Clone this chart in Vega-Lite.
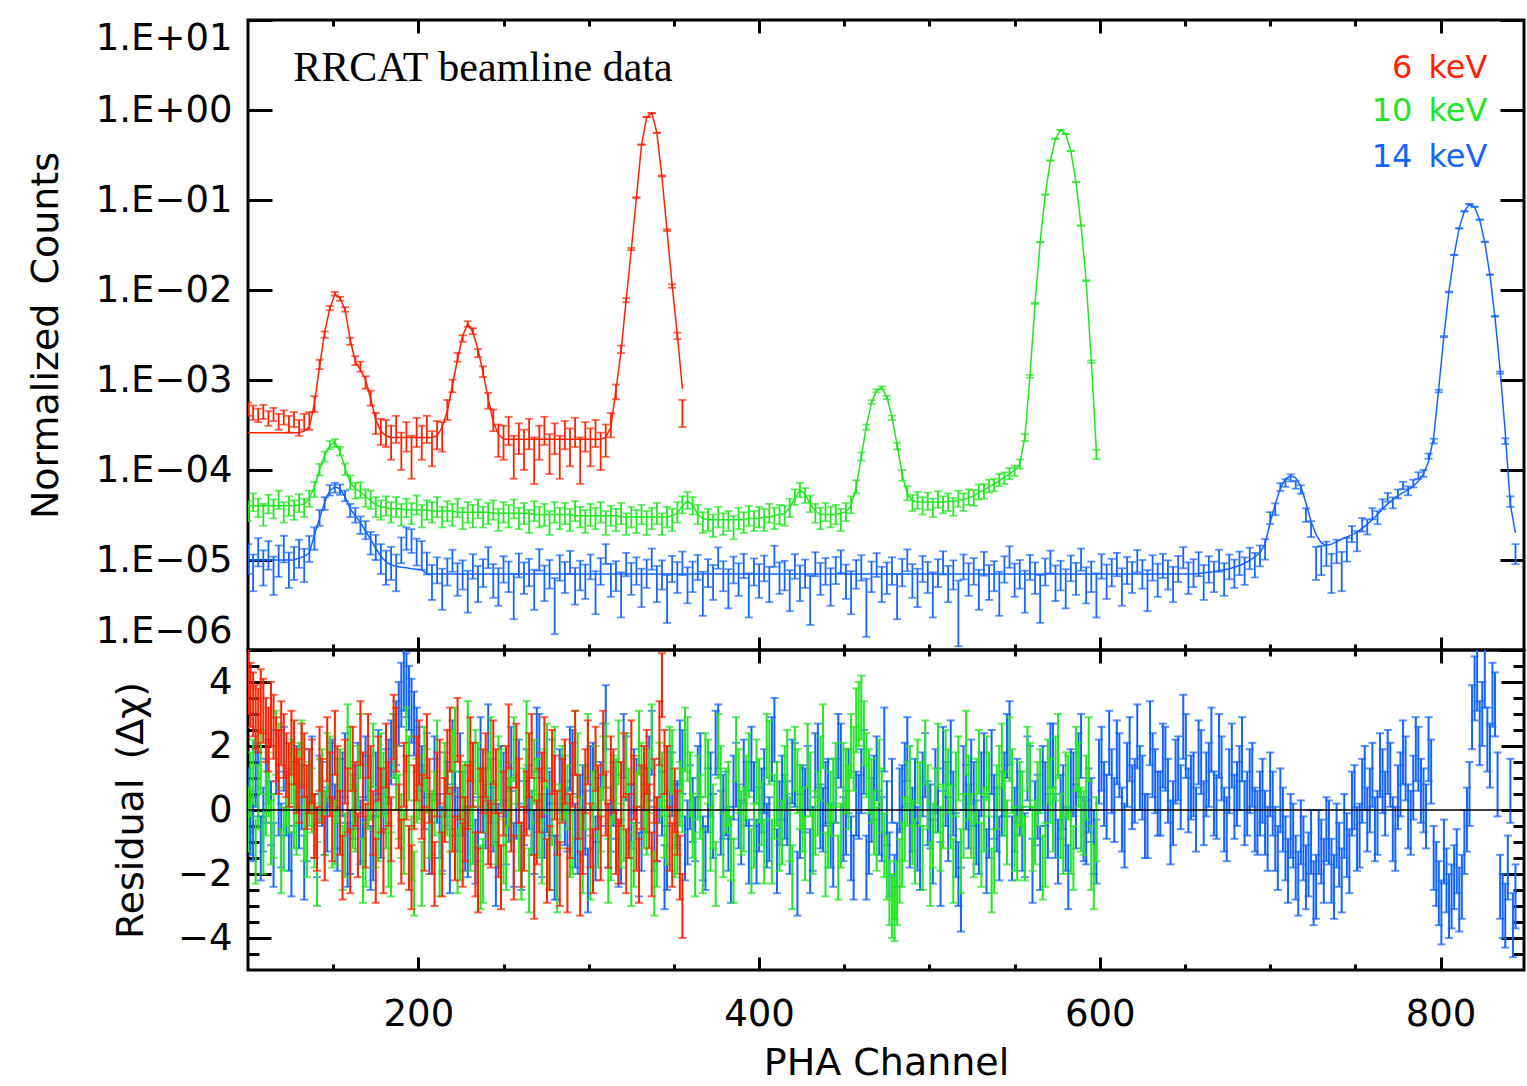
{
"$schema":"https://vega.github.io/schema/vega-lite/v6.json",
"background":"white",
"padding":{"left":25,"top":17,"right":0,"bottom":0},
"spacing":0,
"bounds":"flush",
"datasets":{"d":[
{"s":6,"x":100,"y":4.8e-4,"e":8e-5,"m":2.6e-4,"r":4.0,"u":1},
{"s":6,"x":103,"y":4.4e-4,"e":8e-5,"m":2.6e-4,"r":3.3,"u":1},
{"s":6,"x":106,"y":4.1e-4,"e":7e-5,"m":2.6e-4,"r":2.8,"u":1},
{"s":6,"x":109,"y":4.5e-4,"e":8e-5,"m":2.6e-4,"r":3.1,"u":1},
{"s":6,"x":112,"y":3.8e-4,"e":7e-5,"m":2.6e-4,"r":2.2,"u":1},
{"s":6,"x":115,"y":4.2e-4,"e":7e-5,"m":2.6e-4,"r":2.6,"u":1},
{"s":6,"x":118,"y":3.5e-4,"e":7e-5,"m":2.6e-4,"r":1.5,"u":1},
{"s":6,"x":121,"y":3.9e-4,"e":7e-5,"m":2.6e-4,"r":2.0,"u":1},
{"s":6,"x":124,"y":3.3e-4,"e":7e-5,"m":2.6e-4,"r":1.1,"u":1},
{"s":6,"x":127,"y":3.7e-4,"e":7e-5,"m":2.6e-4,"r":1.8,"u":1},
{"s":6,"x":130,"y":3.0e-4,"e":6e-5,"m":2.6e-4,"r":0.6,"u":1},
{"s":6,"x":133,"y":3.5e-4,"e":7e-5,"m":2.7e-4,"r":1.4,"u":1},
{"s":6,"x":136,"y":3.6e-4,"e":8e-5,"m":3.0e-4,"r":0.9,"u":1},
{"s":6,"x":139,"y":5.5e-4,"e":1.1e-4,"m":5.5e-4,"r":-0.5,"u":1},
{"s":6,"x":142,"y":1.5e-3,"e":1.8e-4,"m":1.4e-3,"r":1.6,"u":1},
{"s":6,"x":145,"y":3.2e-3,"e":2.6e-4,"m":3.4e-3,"r":-1.2,"u":1},
{"s":6,"x":148,"y":6.3e-3,"e":3.5e-4,"m":6.2e-3,"r":0.8,"u":1},
{"s":6,"x":151,"y":9.1e-3,"e":4.2e-4,"m":9.0e-3,"r":2.1,"u":1},
{"s":6,"x":154,"y":8.0e-3,"e":4e-4,"m":8.1e-3,"r":-0.4,"u":1},
{"s":6,"x":157,"y":6.1e-3,"e":3.5e-4,"m":6.0e-3,"r":1.2,"u":1},
{"s":6,"x":160,"y":2.7e-3,"e":2.4e-4,"m":2.8e-3,"r":-1.6,"u":1},
{"s":6,"x":163,"y":1.65e-3,"e":1.9e-4,"m":1.6e-3,"r":0.5,"u":1},
{"s":6,"x":166,"y":1.42e-3,"e":1.8e-4,"m":1.3e-3,"r":2.4,"u":1},
{"s":6,"x":169,"y":9.5e-4,"e":1.5e-4,"m":1.0e-3,"r":-0.8,"u":1},
{"s":6,"x":172,"y":6.4e-4,"e":1.2e-4,"m":6.2e-4,"r":1.0,"u":1},
{"s":6,"x":175,"y":3.4e-4,"e":9e-5,"m":3.6e-4,"r":-1.9,"u":1},
{"s":6,"x":178,"y":2.8e-4,"e":9e-5,"m":2.7e-4,"r":0.3,"u":1},
{"s":6,"x":181,"y":2.7e-4,"e":9e-5,"m":2.4e-4,"r":1.7,"u":1},
{"s":6,"x":184,"y":2.2e-4,"e":9e-5,"m":2.3e-4,"r":-0.6,"u":1},
{"s":6,"x":187,"y":3.0e-4,"e":1.0e-4,"m":2.3e-4,"r":2.2,"u":1},
{"s":6,"x":190,"y":1.8e-4,"e":8e-5,"m":2.3e-4,"r":-1.3,"u":1},
{"s":6,"x":193,"y":2.5e-4,"e":9e-5,"m":2.3e-4,"r":0.7,"u":1},
{"s":6,"x":196,"y":1.6e-4,"e":8e-5,"m":2.3e-4,"r":-2.1,"u":1},
{"s":6,"x":199,"y":2.8e-4,"e":1.0e-4,"m":2.3e-4,"r":1.3,"u":1},
{"s":6,"x":202,"y":2.2e-4,"e":9e-5,"m":2.3e-4,"r":0.1,"u":1},
{"s":6,"x":205,"y":3.0e-4,"e":1.0e-4,"m":2.3e-4,"r":2.0,"u":1},
{"s":6,"x":208,"y":1.9e-4,"e":8e-5,"m":2.3e-4,"r":-1.0,"u":1},
{"s":6,"x":211,"y":2.6e-4,"e":9e-5,"m":2.4e-4,"r":0.8,"u":1},
{"s":6,"x":214,"y":2.5e-4,"e":9e-5,"m":3.0e-4,"r":-1.7,"u":1},
{"s":6,"x":217,"y":4.8e-4,"e":1.2e-4,"m":4.5e-4,"r":1.5,"u":1},
{"s":6,"x":220,"y":8.7e-4,"e":1.4e-4,"m":8.8e-4,"r":-0.3,"u":1},
{"s":6,"x":223,"y":1.8e-3,"e":2e-4,"m":1.7e-3,"r":2.5,"u":1},
{"s":6,"x":226,"y":2.9e-3,"e":2.4e-4,"m":3.1e-3,"r":-1.4,"u":1},
{"s":6,"x":229,"y":4.2e-3,"e":2.9e-4,"m":4.2e-3,"r":0.4,"u":1},
{"s":6,"x":232,"y":3.5e-3,"e":2.7e-4,"m":3.4e-3,"r":1.1,"u":1},
{"s":6,"x":235,"y":2.0e-3,"e":2.1e-4,"m":2.2e-3,"r":-2.2,"u":1},
{"s":6,"x":238,"y":1.25e-3,"e":1.7e-4,"m":1.2e-3,"r":0.9,"u":1},
{"s":6,"x":241,"y":6.0e-4,"e":1.2e-4,"m":6.2e-4,"r":-0.7,"u":1},
{"s":6,"x":244,"y":3.7e-4,"e":1.0e-4,"m":3.4e-4,"r":1.8,"u":1},
{"s":6,"x":247,"y":2.3e-4,"e":9e-5,"m":2.5e-4,"r":-1.1,"u":1},
{"s":6,"x":250,"y":2.2e-4,"e":9e-5,"m":2.2e-4,"r":0.2,"u":1},
{"s":6,"x":253,"y":2.9e-4,"e":1.0e-4,"m":2.2e-4,"r":2.3,"u":1},
{"s":6,"x":256,"y":1.6e-4,"e":8e-5,"m":2.2e-4,"r":-1.8,"u":1},
{"s":6,"x":259,"y":2.4e-4,"e":9e-5,"m":2.2e-4,"r":0.6,"u":1},
{"s":6,"x":262,"y":1.9e-4,"e":9e-5,"m":2.2e-4,"r":-0.9,"u":1},
{"s":6,"x":265,"y":2.7e-4,"e":1.0e-4,"m":2.2e-4,"r":1.4,"u":1},
{"s":6,"x":268,"y":1.5e-4,"e":8e-5,"m":2.2e-4,"r":-2.4,"u":1},
{"s":6,"x":271,"y":2.2e-4,"e":9e-5,"m":2.2e-4,"r":0.3,"u":1},
{"s":6,"x":274,"y":2.9e-4,"e":1.0e-4,"m":2.2e-4,"r":1.9,"u":1},
{"s":6,"x":277,"y":1.7e-4,"e":8e-5,"m":2.2e-4,"r":-1.5,"u":1},
{"s":6,"x":280,"y":2.4e-4,"e":9e-5,"m":2.2e-4,"r":0.7,"u":1},
{"s":6,"x":283,"y":1.6e-4,"e":8e-5,"m":2.2e-4,"r":-2.0,"u":1},
{"s":6,"x":286,"y":2.6e-4,"e":9e-5,"m":2.2e-4,"r":1.2,"u":1},
{"s":6,"x":289,"y":2.0e-4,"e":9e-5,"m":2.2e-4,"r":-0.5,"u":1},
{"s":6,"x":292,"y":2.8e-4,"e":1.0e-4,"m":2.2e-4,"r":2.1,"u":1},
{"s":6,"x":295,"y":1.5e-4,"e":8e-5,"m":2.2e-4,"r":-2.3,"u":1},
{"s":6,"x":298,"y":2.5e-4,"e":9e-5,"m":2.2e-4,"r":0.9,"u":1},
{"s":6,"x":301,"y":2.0e-4,"e":9e-5,"m":2.2e-4,"r":-0.8,"u":1},
{"s":6,"x":304,"y":2.7e-4,"e":9e-5,"m":2.2e-4,"r":1.6,"u":1},
{"s":6,"x":307,"y":1.8e-4,"e":8e-5,"m":2.2e-4,"r":-1.2,"u":1},
{"s":6,"x":310,"y":2.3e-4,"e":9e-5,"m":2.3e-4,"r":0.2,"u":1},
{"s":6,"x":313,"y":3.3e-4,"e":1.0e-4,"m":3.0e-4,"r":1.3,"u":1},
{"s":6,"x":316,"y":7.5e-4,"e":1.4e-4,"m":7.8e-4,"r":-1.0,"u":1},
{"s":6,"x":319,"y":2.2e-3,"e":2.1e-4,"m":2.1e-3,"r":0.5,"u":1},
{"s":6,"x":322,"y":7.7e-3,"e":4e-4,"m":7.9e-3,"r":-1.6,"u":1},
{"s":6,"x":325,"y":2.85e-2,"e":8e-4,"m":2.8e-2,"r":1.8,"u":1},
{"s":6,"x":328,"y":0.106,"e":1.5e-3,"m":0.107,"r":-0.9,"u":1},
{"s":6,"x":331,"y":0.412,"e":3e-3,"m":0.41,"r":0.4,"u":1},
{"s":6,"x":334,"y":0.835,"e":4.3e-3,"m":0.83,"r":1.5,"u":1},
{"s":6,"x":337,"y":0.922,"e":4.5e-3,"m":0.93,"r":-1.7,"u":1},
{"s":6,"x":340,"y":0.557,"e":3.5e-3,"m":0.56,"r":-0.6,"u":1},
{"s":6,"x":343,"y":0.185,"e":2e-3,"m":0.178,"r":3.9,"u":1},
{"s":6,"x":346,"y":0.0462,"e":1e-3,"m":0.045,"r":1.0,"u":1},
{"s":6,"x":349,"y":0.0111,"e":5e-4,"m":0.0112,"r":-1.4,"u":1},
{"s":6,"x":352,"y":3.1e-3,"e":2.6e-4,"m":3.2e-3,"r":-0.4,"u":1},
{"s":6,"x":355,"y":4.5e-4,"e":1.5e-4,"m":8.0e-4,"r":-3.0,"u":1},
{"s":10,"x":100,"y":3.6e-5,"e":9e-6,"m":4.0e-5,"r":-0.3,"u":1},
{"s":10,"x":103,"y":4.5e-5,"e":1.0e-5,"m":4.0e-5,"r":1.2,"u":1},
{"s":10,"x":106,"y":3.9e-5,"e":9e-6,"m":4.0e-5,"r":0.4,"u":1},
{"s":10,"x":109,"y":3.3e-5,"e":9e-6,"m":4.0e-5,"r":-1.0,"u":1},
{"s":10,"x":112,"y":4.3e-5,"e":1.0e-5,"m":4.0e-5,"r":0.8,"u":1},
{"s":10,"x":115,"y":3.8e-5,"e":9e-6,"m":4.0e-5,"r":-0.5,"u":1},
{"s":10,"x":118,"y":4.8e-5,"e":1.1e-5,"m":4.0e-5,"r":1.7,"u":1},
{"s":10,"x":121,"y":3.5e-5,"e":9e-6,"m":4.0e-5,"r":-0.9,"u":1},
{"s":10,"x":124,"y":4.1e-5,"e":1.0e-5,"m":4.0e-5,"r":0.3,"u":1},
{"s":10,"x":127,"y":3.7e-5,"e":9e-6,"m":4.0e-5,"r":-0.2,"u":1},
{"s":10,"x":130,"y":4.4e-5,"e":1.0e-5,"m":4.1e-5,"r":1.1,"u":1},
{"s":10,"x":133,"y":3.9e-5,"e":9e-6,"m":4.2e-5,"r":-0.6,"u":1},
{"s":10,"x":136,"y":4.9e-5,"e":1.0e-5,"m":4.8e-5,"r":0.5,"u":1},
{"s":10,"x":139,"y":6.2e-5,"e":1.2e-5,"m":6.5e-5,"r":-0.8,"u":1},
{"s":10,"x":142,"y":1.02e-4,"e":1.5e-5,"m":1.0e-4,"r":0.6,"u":1},
{"s":10,"x":145,"y":1.42e-4,"e":1.8e-5,"m":1.45e-4,"r":-0.4,"u":1},
{"s":10,"x":148,"y":1.9e-4,"e":2e-5,"m":1.85e-4,"r":1.3,"u":1},
{"s":10,"x":151,"y":2.0e-4,"e":2e-5,"m":2.05e-4,"r":-0.7,"u":1},
{"s":10,"x":154,"y":1.63e-4,"e":1.8e-5,"m":1.6e-4,"r":0.9,"u":1},
{"s":10,"x":157,"y":1.03e-4,"e":1.5e-5,"m":1.05e-4,"r":-1.1,"u":1},
{"s":10,"x":160,"y":7.4e-5,"e":1.3e-5,"m":7.2e-5,"r":1.6,"u":1},
{"s":10,"x":163,"y":6.0e-5,"e":1.2e-5,"m":6.2e-5,"r":-0.3,"u":1},
{"s":10,"x":166,"y":6.1e-5,"e":1.2e-5,"m":5.7e-5,"r":2.0,"u":1},
{"s":10,"x":169,"y":5.0e-5,"e":1.1e-5,"m":5.1e-5,"r":-1.4,"u":1},
{"s":10,"x":172,"y":4.8e-5,"e":1.1e-5,"m":4.6e-5,"r":0.7,"u":1},
{"s":10,"x":175,"y":4.0e-5,"e":1.0e-5,"m":4.1e-5,"r":-0.8,"u":1},
{"s":10,"x":178,"y":3.7e-5,"e":9e-6,"m":3.9e-5,"r":1.4,"u":1},
{"s":10,"x":181,"y":4.1e-5,"e":1.0e-5,"m":3.8e-5,"r":-0.2,"u":1},
{"s":10,"x":184,"y":3.5e-5,"e":9e-6,"m":3.7e-5,"r":-1.7,"u":1},
{"s":10,"x":187,"y":4.0e-5,"e":1.0e-5,"m":3.7e-5,"r":1.0,"u":1},
{"s":10,"x":190,"y":3.3e-5,"e":9e-6,"m":3.7e-5,"r":-0.5,"u":1},
{"s":10,"x":193,"y":3.9e-5,"e":9e-6,"m":3.6e-5,"r":2.2,"u":1},
{"s":10,"x":196,"y":3.4e-5,"e":9e-6,"m":3.6e-5,"r":-1.2,"u":1},
{"s":10,"x":199,"y":4.2e-5,"e":1.0e-5,"m":3.6e-5,"r":0.6,"u":1},
{"s":10,"x":202,"y":3.2e-5,"e":9e-6,"m":3.6e-5,"r":-2.0,"u":1},
{"s":10,"x":205,"y":3.7e-5,"e":9e-6,"m":3.6e-5,"r":0.9,"u":1},
{"s":10,"x":208,"y":3.5e-5,"e":9e-6,"m":3.5e-5,"r":-0.4,"u":1},
{"s":10,"x":211,"y":4.0e-5,"e":1.0e-5,"m":3.5e-5,"r":1.8,"u":1},
{"s":10,"x":214,"y":3.1e-5,"e":8e-6,"m":3.5e-5,"r":-1.0,"u":1},
{"s":10,"x":217,"y":3.6e-5,"e":9e-6,"m":3.5e-5,"r":0.2,"u":1},
{"s":10,"x":220,"y":3.3e-5,"e":9e-6,"m":3.5e-5,"r":1.5,"u":1},
{"s":10,"x":223,"y":3.9e-5,"e":9e-6,"m":3.4e-5,"r":-1.6,"u":1},
{"s":10,"x":226,"y":3.0e-5,"e":8e-6,"m":3.4e-5,"r":0.4,"u":1},
{"s":10,"x":229,"y":3.5e-5,"e":9e-6,"m":3.4e-5,"r":2.4,"u":1},
{"s":10,"x":232,"y":3.2e-5,"e":9e-6,"m":3.4e-5,"r":-0.7,"u":1},
{"s":10,"x":235,"y":3.8e-5,"e":9e-6,"m":3.4e-5,"r":1.1,"u":1},
{"s":10,"x":238,"y":3.1e-5,"e":8e-6,"m":3.4e-5,"r":-1.9,"u":1},
{"s":10,"x":241,"y":3.4e-5,"e":9e-6,"m":3.4e-5,"r":0.8,"u":1},
{"s":10,"x":244,"y":3.7e-5,"e":9e-6,"m":3.3e-5,"r":-0.1,"u":1},
{"s":10,"x":247,"y":2.9e-5,"e":8e-6,"m":3.3e-5,"r":1.3,"u":1},
{"s":10,"x":250,"y":3.5e-5,"e":9e-6,"m":3.3e-5,"r":-1.3,"u":1},
{"s":10,"x":253,"y":3.2e-5,"e":9e-6,"m":3.3e-5,"r":0.5,"u":1},
{"s":10,"x":256,"y":3.8e-5,"e":9e-6,"m":3.3e-5,"r":1.9,"u":1},
{"s":10,"x":259,"y":3.0e-5,"e":8e-6,"m":3.3e-5,"r":-0.9,"u":1},
{"s":10,"x":262,"y":3.4e-5,"e":9e-6,"m":3.3e-5,"r":0.3,"u":1},
{"s":10,"x":265,"y":2.8e-5,"e":8e-6,"m":3.3e-5,"r":-2.2,"u":1},
{"s":10,"x":268,"y":3.6e-5,"e":9e-6,"m":3.2e-5,"r":1.2,"u":1},
{"s":10,"x":271,"y":3.1e-5,"e":8e-6,"m":3.2e-5,"r":-0.5,"u":1},
{"s":10,"x":274,"y":3.3e-5,"e":9e-6,"m":3.2e-5,"r":0.9,"u":1},
{"s":10,"x":277,"y":2.7e-5,"e":8e-6,"m":3.2e-5,"r":-1.5,"u":1},
{"s":10,"x":280,"y":3.5e-5,"e":9e-6,"m":3.2e-5,"r":1.6,"u":1},
{"s":10,"x":283,"y":3.0e-5,"e":8e-6,"m":3.2e-5,"r":-0.2,"u":1},
{"s":10,"x":286,"y":3.4e-5,"e":9e-6,"m":3.2e-5,"r":0.7,"u":1},
{"s":10,"x":289,"y":2.9e-5,"e":8e-6,"m":3.2e-5,"r":-1.1,"u":1},
{"s":10,"x":292,"y":3.6e-5,"e":9e-6,"m":3.1e-5,"r":2.1,"u":1},
{"s":10,"x":295,"y":3.1e-5,"e":8e-6,"m":3.1e-5,"r":-0.6,"u":1},
{"s":10,"x":298,"y":2.8e-5,"e":8e-6,"m":3.1e-5,"r":0.4,"u":1},
{"s":10,"x":301,"y":3.3e-5,"e":9e-6,"m":3.1e-5,"r":-1.8,"u":1},
{"s":10,"x":304,"y":3.0e-5,"e":8e-6,"m":3.1e-5,"r":1.0,"u":1},
{"s":10,"x":307,"y":3.5e-5,"e":9e-6,"m":3.1e-5,"r":-0.3,"u":1},
{"s":10,"x":310,"y":2.7e-5,"e":8e-6,"m":3.1e-5,"r":1.7,"u":1},
{"s":10,"x":313,"y":3.2e-5,"e":8e-6,"m":3.1e-5,"r":-1.2,"u":1},
{"s":10,"x":316,"y":2.9e-5,"e":8e-6,"m":3.1e-5,"r":0.6,"u":1},
{"s":10,"x":319,"y":3.4e-5,"e":9e-6,"m":3.0e-5,"r":-0.8,"u":1},
{"s":10,"x":322,"y":2.6e-5,"e":7e-6,"m":3.0e-5,"r":1.4,"u":1},
{"s":10,"x":325,"y":3.1e-5,"e":8e-6,"m":3.0e-5,"r":-2.0,"u":1},
{"s":10,"x":328,"y":2.8e-5,"e":8e-6,"m":3.0e-5,"r":0.2,"u":1},
{"s":10,"x":331,"y":3.3e-5,"e":8e-6,"m":3.0e-5,"r":1.1,"u":1},
{"s":10,"x":334,"y":2.7e-5,"e":8e-6,"m":3.0e-5,"r":-0.4,"u":1},
{"s":10,"x":337,"y":3.0e-5,"e":8e-6,"m":3.0e-5,"r":2.3,"u":1},
{"s":10,"x":340,"y":3.4e-5,"e":9e-6,"m":3.0e-5,"r":-1.4,"u":1},
{"s":10,"x":343,"y":2.6e-5,"e":7e-6,"m":3.0e-5,"r":0.8,"u":1},
{"s":10,"x":346,"y":3.1e-5,"e":8e-6,"m":3.0e-5,"r":-0.7,"u":1},
{"s":10,"x":349,"y":2.9e-5,"e":8e-6,"m":3.1e-5,"r":1.5,"u":1},
{"s":10,"x":352,"y":3.5e-5,"e":9e-6,"m":3.3e-5,"r":-1.0,"u":1},
{"s":10,"x":355,"y":4.2e-5,"e":9e-6,"m":4.0e-5,"r":0.3,"u":1},
{"s":10,"x":358,"y":4.7e-5,"e":1.0e-5,"m":4.5e-5,"r":1.9,"u":1},
{"s":10,"x":361,"y":4.1e-5,"e":9e-6,"m":4.1e-5,"r":-0.5,"u":1},
{"s":10,"x":364,"y":3.3e-5,"e":8e-6,"m":3.2e-5,"r":0.7,"u":1},
{"s":10,"x":367,"y":2.7e-5,"e":7e-6,"m":2.9e-5,"r":-1.6,"u":1},
{"s":10,"x":370,"y":2.9e-5,"e":8e-6,"m":2.8e-5,"r":1.2,"u":1},
{"s":10,"x":373,"y":2.5e-5,"e":7e-6,"m":2.8e-5,"r":-0.2,"u":1},
{"s":10,"x":376,"y":3.1e-5,"e":8e-6,"m":2.8e-5,"r":2.0,"u":1},
{"s":10,"x":379,"y":2.6e-5,"e":7e-6,"m":2.8e-5,"r":-1.1,"u":1},
{"s":10,"x":382,"y":2.8e-5,"e":7e-6,"m":2.8e-5,"r":0.5,"u":1},
{"s":10,"x":385,"y":2.4e-5,"e":7e-6,"m":2.8e-5,"r":-1.9,"u":1},
{"s":10,"x":388,"y":3.0e-5,"e":8e-6,"m":2.8e-5,"r":0.9,"u":1},
{"s":10,"x":391,"y":2.7e-5,"e":7e-6,"m":2.8e-5,"r":-0.3,"u":1},
{"s":10,"x":394,"y":3.2e-5,"e":8e-6,"m":2.9e-5,"r":1.4,"u":1},
{"s":10,"x":397,"y":2.8e-5,"e":7e-6,"m":2.9e-5,"r":-0.8,"u":1},
{"s":10,"x":400,"y":3.1e-5,"e":8e-6,"m":2.9e-5,"r":0.6,"u":1},
{"s":10,"x":403,"y":2.9e-5,"e":8e-6,"m":3.0e-5,"r":-1.3,"u":1},
{"s":10,"x":406,"y":3.4e-5,"e":8e-6,"m":3.0e-5,"r":1.8,"u":1},
{"s":10,"x":409,"y":3.0e-5,"e":8e-6,"m":3.1e-5,"r":0.1,"u":1},
{"s":10,"x":412,"y":3.3e-5,"e":8e-6,"m":3.2e-5,"r":-0.9,"u":1},
{"s":10,"x":415,"y":3.2e-5,"e":8e-6,"m":3.3e-5,"r":1.0,"u":1},
{"s":10,"x":418,"y":3.9e-5,"e":9e-6,"m":3.8e-5,"r":-0.6,"u":1},
{"s":10,"x":421,"y":5.1e-5,"e":1.0e-5,"m":4.9e-5,"r":1.6,"u":1},
{"s":10,"x":424,"y":6.1e-5,"e":1.1e-5,"m":6.0e-5,"r":0.4,"u":1},
{"s":10,"x":427,"y":5.3e-5,"e":1.0e-5,"m":5.4e-5,"r":-1.2,"u":1},
{"s":10,"x":430,"y":4.3e-5,"e":9e-6,"m":4.2e-5,"r":0.8,"u":1},
{"s":10,"x":433,"y":3.4e-5,"e":8e-6,"m":3.5e-5,"r":-0.4,"u":1},
{"s":10,"x":436,"y":3.0e-5,"e":8e-6,"m":3.2e-5,"r":1.3,"u":1},
{"s":10,"x":439,"y":3.5e-5,"e":8e-6,"m":3.2e-5,"r":-1.7,"u":1},
{"s":10,"x":442,"y":3.1e-5,"e":8e-6,"m":3.2e-5,"r":0.2,"u":1},
{"s":10,"x":445,"y":3.3e-5,"e":8e-6,"m":3.2e-5,"r":1.1,"u":1},
{"s":10,"x":448,"y":2.9e-5,"e":8e-6,"m":3.3e-5,"r":-0.8,"u":1},
{"s":10,"x":451,"y":3.5e-5,"e":8e-6,"m":3.4e-5,"r":0.9,"u":1},
{"s":10,"x":454,"y":4.2e-5,"e":9e-6,"m":4.0e-5,"r":2.0,"u":1},
{"s":10,"x":457,"y":6.6e-5,"e":1.1e-5,"m":6.4e-5,"r":2.8,"u":1},
{"s":10,"x":460,"y":1.42e-4,"e":1.5e-5,"m":1.4e-4,"r":3.2,"u":1},
{"s":10,"x":463,"y":3.0e-4,"e":2e-5,"m":3.1e-4,"r":1.4,"u":1},
{"s":10,"x":466,"y":5.7e-4,"e":2.7e-5,"m":5.6e-4,"r":0.6,"u":1},
{"s":10,"x":469,"y":7.6e-4,"e":3e-5,"m":7.7e-4,"r":-0.9,"u":1},
{"s":10,"x":472,"y":8.2e-4,"e":3.2e-5,"m":8.2e-4,"r":0.3,"u":1},
{"s":10,"x":475,"y":6.4e-4,"e":2.8e-5,"m":6.5e-4,"r":-1.8,"u":1},
{"s":10,"x":478,"y":3.8e-4,"e":2.2e-5,"m":3.9e-4,"r":-3.0,"u":1},
{"s":10,"x":481,"y":1.85e-4,"e":1.6e-5,"m":1.9e-4,"r":-2.6,"u":1},
{"s":10,"x":484,"y":8.8e-5,"e":1.2e-5,"m":9.0e-5,"r":-1.4,"u":1},
{"s":10,"x":487,"y":5.6e-5,"e":1.0e-5,"m":5.4e-5,"r":0.5,"u":1},
{"s":10,"x":490,"y":4.4e-5,"e":9e-6,"m":4.6e-5,"r":-0.7,"u":1},
{"s":10,"x":493,"y":4.7e-5,"e":1.0e-5,"m":4.4e-5,"r":1.2,"u":1},
{"s":10,"x":496,"y":4.1e-5,"e":9e-6,"m":4.4e-5,"r":-1.5,"u":1},
{"s":10,"x":499,"y":4.6e-5,"e":1.0e-5,"m":4.4e-5,"r":0.4,"u":1},
{"s":10,"x":502,"y":3.9e-5,"e":9e-6,"m":4.4e-5,"r":-0.8,"u":1},
{"s":10,"x":505,"y":4.8e-5,"e":1.0e-5,"m":4.4e-5,"r":1.7,"u":1},
{"s":10,"x":508,"y":4.2e-5,"e":9e-6,"m":4.4e-5,"r":-0.2,"u":1},
{"s":10,"x":511,"y":4.5e-5,"e":1.0e-5,"m":4.5e-5,"r":0.9,"u":1},
{"s":10,"x":514,"y":4.0e-5,"e":9e-6,"m":4.5e-5,"r":-1.9,"u":1},
{"s":10,"x":517,"y":4.9e-5,"e":1.0e-5,"m":4.6e-5,"r":1.3,"u":1},
{"s":10,"x":520,"y":4.5e-5,"e":1.0e-5,"m":4.7e-5,"r":-0.5,"u":1},
{"s":10,"x":523,"y":5.1e-5,"e":1.0e-5,"m":4.9e-5,"r":0.7,"u":1},
{"s":10,"x":526,"y":5.0e-5,"e":1.0e-5,"m":5.2e-5,"r":-1.1,"u":1},
{"s":10,"x":529,"y":5.8e-5,"e":1.1e-5,"m":5.6e-5,"r":1.5,"u":1},
{"s":10,"x":532,"y":5.9e-5,"e":1.1e-5,"m":6.0e-5,"r":-0.3,"u":1},
{"s":10,"x":535,"y":6.7e-5,"e":1.1e-5,"m":6.5e-5,"r":0.8,"u":1},
{"s":10,"x":538,"y":6.9e-5,"e":1.1e-5,"m":7.0e-5,"r":-1.6,"u":1},
{"s":10,"x":541,"y":7.8e-5,"e":1.2e-5,"m":7.6e-5,"r":1.0,"u":1},
{"s":10,"x":544,"y":8.2e-5,"e":1.2e-5,"m":8.3e-5,"r":0.2,"u":1},
{"s":10,"x":547,"y":9.2e-5,"e":1.3e-5,"m":9.0e-5,"r":1.9,"u":1},
{"s":10,"x":550,"y":9.9e-5,"e":1.3e-5,"m":1.0e-4,"r":-0.9,"u":1},
{"s":10,"x":553,"y":1.17e-4,"e":1.4e-5,"m":1.15e-4,"r":0.5,"u":1},
{"s":10,"x":556,"y":2.3e-4,"e":2e-5,"m":2.3e-4,"r":-1.2,"u":1},
{"s":10,"x":559,"y":1.1e-3,"e":4e-5,"m":1.1e-3,"r":1.1,"u":1},
{"s":10,"x":562,"y":7.1e-3,"e":1.0e-4,"m":7.2e-3,"r":-0.7,"u":1},
{"s":10,"x":565,"y":3.4e-2,"e":2.2e-4,"m":3.4e-2,"r":0.9,"u":1},
{"s":10,"x":568,"y":0.115,"e":4e-4,"m":0.115,"r":-1.4,"u":1},
{"s":10,"x":571,"y":0.274,"e":6e-4,"m":0.275,"r":0.6,"u":1},
{"s":10,"x":574,"y":0.48,"e":8e-4,"m":0.48,"r":1.3,"u":1},
{"s":10,"x":577,"y":0.60,"e":9e-4,"m":0.60,"r":-0.5,"u":1},
{"s":10,"x":580,"y":0.54,"e":9e-4,"m":0.54,"r":0.8,"u":1},
{"s":10,"x":583,"y":0.35,"e":7e-4,"m":0.35,"r":-1.0,"u":1},
{"s":10,"x":586,"y":0.158,"e":5e-4,"m":0.158,"r":1.6,"u":1},
{"s":10,"x":589,"y":5.2e-2,"e":3e-4,"m":5.2e-2,"r":-0.3,"u":1},
{"s":10,"x":592,"y":1.27e-2,"e":1.4e-4,"m":1.26e-2,"r":0.7,"u":1},
{"s":10,"x":595,"y":1.6e-3,"e":5e-5,"m":1.65e-3,"r":-1.5,"u":1},
{"s":10,"x":598,"y":1.5e-4,"e":1.8e-5,"m":1.6e-4,"r":-0.6,"u":1},
{"s":14,"x":100,"y":1.1e-5,"e":4e-6,"m":1.0e-5,"r":0.3,"u":1},
{"s":14,"x":103,"y":8.0e-6,"e":3.5e-6,"m":1.0e-5,"r":-0.6,"u":1},
{"s":14,"x":106,"y":1.3e-5,"e":4.5e-6,"m":1.0e-5,"r":0.8,"u":1},
{"s":14,"x":109,"y":9.0e-6,"e":3.8e-6,"m":1.0e-5,"r":-0.3,"u":1},
{"s":14,"x":112,"y":1.2e-5,"e":4.2e-6,"m":1.0e-5,"r":1.2,"u":1},
{"s":14,"x":115,"y":7.5e-6,"e":3.4e-6,"m":1.0e-5,"r":-1.4,"u":1},
{"s":14,"x":118,"y":1.05e-5,"e":4e-6,"m":1.0e-5,"r":0.2,"u":1},
{"s":14,"x":121,"y":1.4e-5,"e":4.6e-6,"m":1.0e-5,"r":1.6,"u":1},
{"s":14,"x":124,"y":8.5e-6,"e":3.6e-6,"m":1.0e-5,"r":-0.9,"u":1},
{"s":14,"x":127,"y":1.0e-5,"e":4e-6,"m":1.0e-5,"r":0.5,"u":1},
{"s":14,"x":130,"y":1.25e-5,"e":4.3e-6,"m":1.05e-5,"r":-0.2,"u":1},
{"s":14,"x":133,"y":9.5e-6,"e":3.8e-6,"m":1.1e-5,"r":-1.8,"u":1},
{"s":14,"x":136,"y":1.4e-5,"e":4.5e-6,"m":1.2e-5,"r":0.9,"u":1},
{"s":14,"x":139,"y":1.8e-5,"e":5e-6,"m":1.9e-5,"r":-0.5,"u":1},
{"s":14,"x":142,"y":3.0e-5,"e":6e-6,"m":2.9e-5,"r":0.7,"u":1},
{"s":14,"x":145,"y":4.3e-5,"e":7e-6,"m":4.4e-5,"r":-0.4,"u":1},
{"s":14,"x":148,"y":6.0e-5,"e":8e-6,"m":5.9e-5,"r":1.1,"u":1},
{"s":14,"x":151,"y":6.4e-5,"e":8e-6,"m":6.5e-5,"r":-0.2,"u":1},
{"s":14,"x":154,"y":6.1e-5,"e":8e-6,"m":6.2e-5,"r":0.6,"u":1},
{"s":14,"x":157,"y":5.2e-5,"e":7e-6,"m":5.0e-5,"r":1.4,"u":1},
{"s":14,"x":160,"y":3.6e-5,"e":6e-6,"m":3.7e-5,"r":-1.0,"u":1},
{"s":14,"x":163,"y":3.2e-5,"e":6e-6,"m":3.1e-5,"r":0.4,"u":1},
{"s":14,"x":166,"y":2.5e-5,"e":5.5e-6,"m":2.6e-5,"r":-0.7,"u":1},
{"s":14,"x":169,"y":2.2e-5,"e":5e-6,"m":2.1e-5,"r":1.3,"u":1},
{"s":14,"x":172,"y":1.6e-5,"e":4.5e-6,"m":1.7e-5,"r":-1.5,"u":1},
{"s":14,"x":175,"y":1.45e-5,"e":4.5e-6,"m":1.35e-5,"r":0.8,"u":1},
{"s":14,"x":178,"y":1.1e-5,"e":4e-6,"m":1.1e-5,"r":-0.5,"u":1},
{"s":14,"x":181,"y":9.0e-6,"e":3.7e-6,"m":9.5e-6,"r":0.9,"u":1},
{"s":14,"x":184,"y":1.0e-5,"e":4e-6,"m":8.8e-6,"r":1.8,"u":1},
{"s":14,"x":187,"y":8.0e-6,"e":3.5e-6,"m":8.5e-6,"r":2.4,"u":1},
{"s":14,"x":190,"y":1.35e-5,"e":4.3e-6,"m":8.3e-6,"r":3.6,"u":1},
{"s":14,"x":193,"y":1.8e-5,"e":5e-6,"m":8.2e-6,"r":3.9,"u":1},
{"s":14,"x":196,"y":1.7e-5,"e":5e-6,"m":8.0e-6,"r":3.1,"u":1},
{"s":14,"x":199,"y":1.3e-5,"e":4.3e-6,"m":7.9e-6,"r":2.2,"u":1},
{"s":14,"x":202,"y":1.2e-5,"e":4.2e-6,"m":7.8e-6,"r":1.0,"u":1},
{"s":14,"x":205,"y":9.5e-6,"e":2.6e-6,"m":7.0e-6,"r":1.4,"u":1},
{"s":14,"x":208,"y":6.2e-6,"e":2.6e-6,"m":7.0e-6,"r":-0.5,"u":1},
{"s":14,"x":211,"y":8.1e-6,"e":2.6e-6,"m":7.0e-6,"r":0.6,"u":1},
{"s":14,"x":214,"y":5.4e-6,"e":2.6e-6,"m":7.0e-6,"r":-0.9,"u":1},
{"s":14,"x":217,"y":7.8e-6,"e":2.6e-6,"m":7.0e-6,"r":0.5,"u":1},
{"s":14,"x":220,"y":1.02e-5,"e":2.8e-6,"m":7.0e-6,"r":1.8,"u":1},
{"s":14,"x":223,"y":6.6e-6,"e":2.6e-6,"m":7.0e-6,"r":-0.3,"u":1},
{"s":14,"x":226,"y":7.3e-6,"e":2.6e-6,"m":7.0e-6,"r":0.2,"u":1},
{"s":14,"x":229,"y":5.1e-6,"e":2.5e-6,"m":7.0e-6,"r":-1.1,"u":1},
{"s":14,"x":232,"y":8.9e-6,"e":2.7e-6,"m":7.0e-6,"r":1.1,"u":1},
{"s":14,"x":235,"y":6.0e-6,"e":2.6e-6,"m":7.0e-6,"r":-0.6,"u":1},
{"s":14,"x":238,"y":7.6e-6,"e":2.6e-6,"m":7.0e-6,"r":0.3,"u":1},
{"s":14,"x":241,"y":1.1e-5,"e":2.9e-6,"m":7.0e-6,"r":2.3,"u":1},
{"s":14,"x":244,"y":6.4e-6,"e":2.6e-6,"m":7.0e-6,"r":-0.3,"u":1},
{"s":14,"x":247,"y":5.6e-6,"e":2.5e-6,"m":7.0e-6,"r":-0.8,"u":1},
{"s":14,"x":250,"y":8.3e-6,"e":2.7e-6,"m":7.0e-6,"r":0.8,"u":1},
{"s":14,"x":253,"y":7.0e-6,"e":2.6e-6,"m":7.0e-6,"r":0.0,"u":1},
{"s":14,"x":256,"y":4.6e-6,"e":2.4e-6,"m":7.0e-6,"r":-1.4,"u":1},
{"s":14,"x":259,"y":9.1e-6,"e":2.7e-6,"m":7.0e-6,"r":1.2,"u":1},
{"s":14,"x":262,"y":6.8e-6,"e":2.6e-6,"m":7.0e-6,"r":-0.1,"u":1},
{"s":14,"x":265,"y":7.7e-6,"e":2.6e-6,"m":7.0e-6,"r":0.4,"u":1},
{"s":14,"x":268,"y":5.3e-6,"e":2.5e-6,"m":7.0e-6,"r":-1.0,"u":1},
{"s":14,"x":271,"y":1.04e-5,"e":2.8e-6,"m":7.0e-6,"r":2.0,"u":1},
{"s":14,"x":274,"y":6.1e-6,"e":2.6e-6,"m":7.0e-6,"r":-0.5,"u":1},
{"s":14,"x":277,"y":7.4e-6,"e":2.6e-6,"m":7.0e-6,"r":0.2,"u":1},
{"s":14,"x":280,"y":3.9e-6,"e":2.4e-6,"m":7.0e-6,"r":-1.8,"u":1},
{"s":14,"x":283,"y":8.6e-6,"e":2.7e-6,"m":7.0e-6,"r":0.9,"u":1},
{"s":14,"x":286,"y":6.9e-6,"e":2.6e-6,"m":7.0e-6,"r":-0.1,"u":1},
{"s":14,"x":289,"y":9.8e-6,"e":2.8e-6,"m":7.0e-6,"r":1.6,"u":1},
{"s":14,"x":292,"y":5.7e-6,"e":2.5e-6,"m":7.0e-6,"r":-0.8,"u":1},
{"s":14,"x":295,"y":7.2e-6,"e":2.6e-6,"m":7.0e-6,"r":0.1,"u":1},
{"s":14,"x":298,"y":6.3e-6,"e":2.6e-6,"m":7.0e-6,"r":-0.4,"u":1},
{"s":14,"x":301,"y":8.8e-6,"e":2.7e-6,"m":7.0e-6,"r":1.0,"u":1},
{"s":14,"x":304,"y":5.0e-6,"e":2.5e-6,"m":7.0e-6,"r":-1.2,"u":1},
{"s":14,"x":307,"y":7.9e-6,"e":2.6e-6,"m":7.0e-6,"r":0.5,"u":1},
{"s":14,"x":310,"y":1.2e-5,"e":3e-6,"m":7.0e-6,"r":2.9,"u":1},
{"s":14,"x":313,"y":6.5e-6,"e":2.6e-6,"m":7.0e-6,"r":-0.3,"u":1},
{"s":14,"x":316,"y":7.1e-6,"e":2.6e-6,"m":7.0e-6,"r":0.1,"u":1},
{"s":14,"x":319,"y":4.8e-6,"e":2.5e-6,"m":7.0e-6,"r":-1.3,"u":1},
{"s":14,"x":322,"y":9.3e-6,"e":2.7e-6,"m":7.0e-6,"r":1.3,"u":1},
{"s":14,"x":325,"y":6.7e-6,"e":2.6e-6,"m":7.0e-6,"r":-0.2,"u":1},
{"s":14,"x":328,"y":8.0e-6,"e":2.7e-6,"m":7.0e-6,"r":0.6,"u":1},
{"s":14,"x":331,"y":5.5e-6,"e":2.5e-6,"m":7.0e-6,"r":-0.9,"u":1},
{"s":14,"x":334,"y":7.5e-6,"e":2.6e-6,"m":7.0e-6,"r":0.3,"u":1},
{"s":14,"x":337,"y":1.06e-5,"e":2.8e-6,"m":7.0e-6,"r":2.1,"u":1},
{"s":14,"x":340,"y":6.0e-6,"e":2.6e-6,"m":7.0e-6,"r":-0.6,"u":1},
{"s":14,"x":343,"y":7.3e-6,"e":2.6e-6,"m":7.0e-6,"r":0.2,"u":1},
{"s":14,"x":346,"y":4.4e-6,"e":2.4e-6,"m":7.0e-6,"r":-1.5,"u":1},
{"s":14,"x":349,"y":8.4e-6,"e":2.7e-6,"m":7.0e-6,"r":0.8,"u":1},
{"s":14,"x":352,"y":6.9e-6,"e":2.6e-6,"m":7.0e-6,"r":-0.1,"u":1},
{"s":14,"x":355,"y":9.6e-6,"e":2.8e-6,"m":7.0e-6,"r":1.5,"u":1},
{"s":14,"x":358,"y":5.8e-6,"e":2.5e-6,"m":7.0e-6,"r":-0.7,"u":1},
{"s":14,"x":361,"y":7.0e-6,"e":2.6e-6,"m":7.0e-6,"r":0.0,"u":1},
{"s":14,"x":364,"y":8.7e-6,"e":2.7e-6,"m":7.0e-6,"r":1.0,"u":1},
{"s":14,"x":367,"y":4.9e-6,"e":2.5e-6,"m":7.0e-6,"r":-1.2,"u":1},
{"s":14,"x":370,"y":7.6e-6,"e":2.6e-6,"m":7.0e-6,"r":0.3,"u":1},
{"s":14,"x":373,"y":6.2e-6,"e":2.6e-6,"m":7.0e-6,"r":-0.5,"u":1},
{"s":14,"x":376,"y":1.09e-5,"e":2.9e-6,"m":7.0e-6,"r":2.3,"u":1},
{"s":14,"x":379,"y":7.1e-6,"e":2.6e-6,"m":7.0e-6,"r":0.1,"u":1},
{"s":14,"x":382,"y":5.4e-6,"e":2.5e-6,"m":7.0e-6,"r":-0.9,"u":1},
{"s":14,"x":385,"y":8.2e-6,"e":2.7e-6,"m":7.0e-6,"r":0.7,"u":1},
{"s":14,"x":388,"y":6.6e-6,"e":2.6e-6,"m":7.0e-6,"r":-0.2,"u":1},
{"s":14,"x":391,"y":9.0e-6,"e":2.7e-6,"m":7.0e-6,"r":1.2,"u":1},
{"s":14,"x":394,"y":4.7e-6,"e":2.4e-6,"m":7.0e-6,"r":-1.3,"u":1},
{"s":14,"x":397,"y":7.8e-6,"e":2.6e-6,"m":7.0e-6,"r":0.5,"u":1},
{"s":14,"x":400,"y":6.4e-6,"e":2.6e-6,"m":7.0e-6,"r":-0.3,"u":1},
{"s":14,"x":403,"y":8.5e-6,"e":2.7e-6,"m":7.0e-6,"r":0.9,"u":1},
{"s":14,"x":406,"y":5.9e-6,"e":2.5e-6,"m":7.0e-6,"r":-0.6,"u":1},
{"s":14,"x":409,"y":1.14e-5,"e":3e-6,"m":7.0e-6,"r":2.5,"u":1},
{"s":14,"x":412,"y":6.8e-6,"e":2.6e-6,"m":7.0e-6,"r":-0.1,"u":1},
{"s":14,"x":415,"y":7.2e-6,"e":2.6e-6,"m":7.0e-6,"r":0.1,"u":1},
{"s":14,"x":418,"y":5.2e-6,"e":2.5e-6,"m":7.0e-6,"r":-1.0,"u":1},
{"s":14,"x":421,"y":8.9e-6,"e":2.7e-6,"m":7.0e-6,"r":1.1,"u":1},
{"s":14,"x":424,"y":6.1e-6,"e":2.6e-6,"m":7.0e-6,"r":-0.5,"u":1},
{"s":14,"x":427,"y":7.5e-6,"e":2.6e-6,"m":7.0e-6,"r":0.3,"u":1},
{"s":14,"x":430,"y":4.3e-6,"e":2.4e-6,"m":7.0e-6,"r":-1.6,"u":1},
{"s":14,"x":433,"y":9.4e-6,"e":2.8e-6,"m":7.0e-6,"r":1.4,"u":1},
{"s":14,"x":436,"y":6.7e-6,"e":2.6e-6,"m":7.0e-6,"r":-0.2,"u":1},
{"s":14,"x":439,"y":7.9e-6,"e":2.6e-6,"m":7.0e-6,"r":0.5,"u":1},
{"s":14,"x":442,"y":5.6e-6,"e":2.5e-6,"m":7.0e-6,"r":-0.8,"u":1},
{"s":14,"x":445,"y":8.1e-6,"e":2.7e-6,"m":7.0e-6,"r":0.6,"u":1},
{"s":14,"x":448,"y":1.0e-5,"e":2.8e-6,"m":7.0e-6,"r":1.7,"u":1},
{"s":14,"x":451,"y":6.3e-6,"e":2.6e-6,"m":7.0e-6,"r":-0.4,"u":1},
{"s":14,"x":454,"y":5.0e-6,"e":2.5e-6,"m":7.0e-6,"r":-1.2,"u":1},
{"s":14,"x":457,"y":7.4e-6,"e":2.6e-6,"m":7.0e-6,"r":0.2,"u":1},
{"s":14,"x":460,"y":8.6e-6,"e":2.7e-6,"m":7.0e-6,"r":0.9,"u":1},
{"s":14,"x":463,"y":3.8e-6,"e":2.4e-6,"m":7.0e-6,"r":-1.8,"u":1},
{"s":14,"x":466,"y":7.0e-6,"e":2.6e-6,"m":7.0e-6,"r":0.0,"u":1},
{"s":14,"x":469,"y":9.2e-6,"e":2.7e-6,"m":7.0e-6,"r":1.3,"u":1},
{"s":14,"x":472,"y":5.9e-6,"e":2.5e-6,"m":7.0e-6,"r":-0.6,"u":1},
{"s":14,"x":475,"y":6.8e-6,"e":2.6e-6,"m":7.0e-6,"r":-0.1,"u":1},
{"s":14,"x":478,"y":8.0e-6,"e":2.7e-6,"m":7.0e-6,"r":0.6,"u":1},
{"s":14,"x":481,"y":4.6e-6,"e":2.4e-6,"m":7.0e-6,"r":-1.4,"u":1},
{"s":14,"x":484,"y":7.7e-6,"e":2.6e-6,"m":7.0e-6,"r":0.4,"u":1},
{"s":14,"x":487,"y":1.03e-5,"e":2.8e-6,"m":7.0e-6,"r":1.9,"u":1},
{"s":14,"x":490,"y":6.4e-6,"e":2.6e-6,"m":7.0e-6,"r":-0.3,"u":1},
{"s":14,"x":493,"y":5.5e-6,"e":2.5e-6,"m":7.0e-6,"r":-0.9,"u":1},
{"s":14,"x":496,"y":8.4e-6,"e":2.7e-6,"m":7.0e-6,"r":0.8,"u":1},
{"s":14,"x":499,"y":6.9e-6,"e":2.6e-6,"m":7.0e-6,"r":-0.1,"u":1},
{"s":14,"x":502,"y":4.8e-6,"e":2.5e-6,"m":7.0e-6,"r":-1.3,"u":1},
{"s":14,"x":505,"y":7.6e-6,"e":2.6e-6,"m":7.0e-6,"r":0.3,"u":1},
{"s":14,"x":508,"y":9.7e-6,"e":2.8e-6,"m":7.0e-6,"r":1.6,"u":1},
{"s":14,"x":511,"y":6.0e-6,"e":2.6e-6,"m":7.0e-6,"r":-0.6,"u":1},
{"s":14,"x":514,"y":7.3e-6,"e":2.6e-6,"m":7.0e-6,"r":0.2,"u":1},
{"s":14,"x":517,"y":3.5e-6,"e":2.4e-6,"m":7.0e-6,"r":-2.0,"u":1},
{"s":14,"x":520,"y":8.8e-6,"e":2.7e-6,"m":7.0e-6,"r":1.0,"u":1},
{"s":14,"x":523,"y":6.6e-6,"e":2.6e-6,"m":7.0e-6,"r":-0.2,"u":1},
{"s":14,"x":526,"y":7.9e-6,"e":2.6e-6,"m":7.0e-6,"r":0.5,"u":1},
{"s":14,"x":529,"y":5.3e-6,"e":2.5e-6,"m":7.0e-6,"r":-1.0,"u":1},
{"s":14,"x":532,"y":9.5e-6,"e":2.8e-6,"m":7.0e-6,"r":1.4,"u":1},
{"s":14,"x":535,"y":6.2e-6,"e":2.6e-6,"m":7.0e-6,"r":-0.5,"u":1},
{"s":14,"x":538,"y":7.1e-6,"e":2.6e-6,"m":7.0e-6,"r":0.1,"u":1},
{"s":14,"x":541,"y":4.9e-6,"e":2.5e-6,"m":7.0e-6,"r":-1.2,"u":1},
{"s":14,"x":544,"y":8.3e-6,"e":2.7e-6,"m":7.0e-6,"r":0.8,"u":1},
{"s":14,"x":547,"y":1.12e-5,"e":3e-6,"m":7.0e-6,"r":2.4,"u":1},
{"s":14,"x":550,"y":6.5e-6,"e":2.6e-6,"m":7.0e-6,"r":-0.3,"u":1},
{"s":14,"x":553,"y":7.4e-6,"e":2.6e-6,"m":7.0e-6,"r":0.2,"u":1},
{"s":14,"x":556,"y":5.1e-6,"e":2.5e-6,"m":7.0e-6,"r":-1.1,"u":1},
{"s":14,"x":559,"y":8.7e-6,"e":2.7e-6,"m":7.0e-6,"r":1.0,"u":1},
{"s":14,"x":562,"y":6.8e-6,"e":2.6e-6,"m":7.0e-6,"r":-0.1,"u":1},
{"s":14,"x":565,"y":4.4e-6,"e":2.4e-6,"m":7.0e-6,"r":-1.5,"u":1},
{"s":14,"x":568,"y":7.8e-6,"e":2.6e-6,"m":7.0e-6,"r":0.5,"u":1},
{"s":14,"x":571,"y":9.9e-6,"e":2.8e-6,"m":7.0e-6,"r":1.7,"u":1},
{"s":14,"x":574,"y":6.1e-6,"e":2.6e-6,"m":7.0e-6,"r":-0.5,"u":1},
{"s":14,"x":577,"y":7.2e-6,"e":2.6e-6,"m":7.0e-6,"r":0.1,"u":1},
{"s":14,"x":580,"y":5.4e-6,"e":2.5e-6,"m":7.0e-6,"r":-0.9,"u":1},
{"s":14,"x":583,"y":8.5e-6,"e":2.7e-6,"m":7.0e-6,"r":0.9,"u":1},
{"s":14,"x":586,"y":6.7e-6,"e":2.6e-6,"m":7.0e-6,"r":-0.2,"u":1},
{"s":14,"x":589,"y":1.05e-5,"e":2.9e-6,"m":7.0e-6,"r":2.0,"u":1},
{"s":14,"x":592,"y":5.8e-6,"e":2.5e-6,"m":7.0e-6,"r":-0.7,"u":1},
{"s":14,"x":595,"y":7.0e-6,"e":2.6e-6,"m":7.0e-6,"r":0.0,"u":1},
{"s":14,"x":598,"y":4.7e-6,"e":2.4e-6,"m":7.0e-6,"r":-1.3,"u":1},
{"s":14,"x":601,"y":8.9e-6,"e":2.7e-6,"m":7.0e-6,"r":1.6,"u":1},
{"s":14,"x":604,"y":6.3e-6,"e":2.6e-6,"m":7.0e-6,"r":0.1,"u":1},
{"s":14,"x":607,"y":7.7e-6,"e":2.6e-6,"m":7.0e-6,"r":0.9,"u":1},
{"s":14,"x":610,"y":9.3e-6,"e":2.7e-6,"m":7.0e-6,"r":1.8,"u":1},
{"s":14,"x":613,"y":5.6e-6,"e":2.5e-6,"m":7.0e-6,"r":-0.3,"u":1},
{"s":14,"x":616,"y":8.1e-6,"e":2.7e-6,"m":7.0e-6,"r":1.1,"u":1},
{"s":14,"x":619,"y":6.9e-6,"e":2.6e-6,"m":7.0e-6,"r":0.4,"u":1},
{"s":14,"x":622,"y":1.01e-5,"e":2.8e-6,"m":7.0e-6,"r":2.3,"u":1},
{"s":14,"x":625,"y":7.4e-6,"e":2.6e-6,"m":7.0e-6,"r":0.7,"u":1},
{"s":14,"x":628,"y":5.2e-6,"e":2.5e-6,"m":7.0e-6,"r":-0.5,"u":1},
{"s":14,"x":631,"y":8.6e-6,"e":2.7e-6,"m":7.0e-6,"r":1.4,"u":1},
{"s":14,"x":634,"y":6.5e-6,"e":2.6e-6,"m":7.0e-6,"r":0.2,"u":1},
{"s":14,"x":637,"y":9.0e-6,"e":2.7e-6,"m":7.0e-6,"r":1.7,"u":1},
{"s":14,"x":640,"y":7.3e-6,"e":2.6e-6,"m":7.0e-6,"r":0.6,"u":1},
{"s":14,"x":643,"y":5.9e-6,"e":2.5e-6,"m":7.0e-6,"r":-0.1,"u":1},
{"s":14,"x":646,"y":8.4e-6,"e":2.7e-6,"m":7.0e-6,"r":1.3,"u":1},
{"s":14,"x":649,"y":1.1e-5,"e":2.9e-6,"m":7.0e-6,"r":2.6,"u":1},
{"s":14,"x":652,"y":6.8e-6,"e":2.6e-6,"m":7.0e-6,"r":0.3,"u":1},
{"s":14,"x":655,"y":7.6e-6,"e":2.6e-6,"m":7.0e-6,"r":0.8,"u":1},
{"s":14,"x":658,"y":9.4e-6,"e":2.8e-6,"m":7.1e-6,"r":1.8,"u":1},
{"s":14,"x":661,"y":6.2e-6,"e":2.6e-6,"m":7.2e-6,"r":-0.1,"u":1},
{"s":14,"x":664,"y":8.3e-6,"e":2.7e-6,"m":7.3e-6,"r":1.1,"u":1},
{"s":14,"x":667,"y":7.0e-6,"e":2.6e-6,"m":7.4e-6,"r":0.2,"u":1},
{"s":14,"x":670,"y":1.02e-5,"e":2.8e-6,"m":7.6e-6,"r":2.0,"u":1},
{"s":14,"x":673,"y":6.6e-6,"e":2.6e-6,"m":7.8e-6,"r":-0.3,"u":1},
{"s":14,"x":676,"y":8.8e-6,"e":2.7e-6,"m":8.0e-6,"r":0.9,"u":1},
{"s":14,"x":679,"y":7.5e-6,"e":2.6e-6,"m":8.3e-6,"r":0.1,"u":1},
{"s":14,"x":682,"y":9.6e-6,"e":2.8e-6,"m":8.7e-6,"r":1.0,"u":1},
{"s":14,"x":685,"y":8.0e-6,"e":2.7e-6,"m":9.2e-6,"r":-0.1,"u":1},
{"s":14,"x":688,"y":1.08e-5,"e":2.9e-6,"m":9.9e-6,"r":0.9,"u":1},
{"s":14,"x":691,"y":9.2e-6,"e":2.8e-6,"m":1.08e-5,"r":-0.3,"u":1},
{"s":14,"x":694,"y":1.15e-5,"e":3e-6,"m":1.2e-5,"r":0.2,"u":1},
{"s":14,"x":697,"y":1.36e-5,"e":3.5e-6,"m":1.5e-5,"r":-0.4,"u":1},
{"s":14,"x":700,"y":2.96e-5,"e":4.5e-6,"m":2.6e-5,"r":0.8,"u":1},
{"s":14,"x":703,"y":3.7e-5,"e":5.5e-6,"m":4.2e-5,"r":-0.9,"u":1},
{"s":14,"x":706,"y":6.5e-5,"e":6.5e-6,"m":6.3e-5,"r":0.3,"u":1},
{"s":14,"x":709,"y":7.2e-5,"e":7e-6,"m":8.0e-5,"r":-1.2,"u":1},
{"s":14,"x":712,"y":8.2e-5,"e":7.5e-6,"m":8.6e-5,"r":-0.5,"u":1},
{"s":14,"x":715,"y":6.9e-5,"e":7e-6,"m":8.2e-5,"r":-1.8,"u":1},
{"s":14,"x":718,"y":6.1e-5,"e":6.5e-6,"m":6.6e-5,"r":-0.7,"u":1},
{"s":14,"x":721,"y":3.2e-5,"e":5.5e-6,"m":4.3e-5,"r":-2.1,"u":1},
{"s":14,"x":724,"y":2.25e-5,"e":4.5e-6,"m":2.7e-5,"r":-1.0,"u":1},
{"s":14,"x":727,"y":1.0e-5,"e":4e-6,"m":1.9e-5,"r":-2.4,"u":1},
{"s":14,"x":730,"y":1.06e-5,"e":3.8e-6,"m":1.55e-5,"r":-1.3,"u":1},
{"s":14,"x":733,"y":1.23e-5,"e":3.7e-6,"m":1.45e-5,"r":-0.6,"u":1},
{"s":14,"x":736,"y":8.0e-6,"e":3.7e-6,"m":1.5e-5,"r":-1.9,"u":1},
{"s":14,"x":739,"y":1.3e-5,"e":3.8e-6,"m":1.6e-5,"r":-0.8,"u":1},
{"s":14,"x":742,"y":8.4e-6,"e":3.9e-6,"m":1.7e-5,"r":-2.2,"u":1},
{"s":14,"x":745,"y":1.36e-5,"e":4e-6,"m":1.8e-5,"r":-1.1,"u":1},
{"s":14,"x":748,"y":1.98e-5,"e":4e-6,"m":1.9e-5,"r":0.2,"u":1},
{"s":14,"x":751,"y":1.67e-5,"e":4.2e-6,"m":2.05e-5,"r":-0.9,"u":1},
{"s":14,"x":754,"y":2.5e-5,"e":4.3e-6,"m":2.25e-5,"r":0.6,"u":1},
{"s":14,"x":757,"y":2.37e-5,"e":4.5e-6,"m":2.5e-5,"r":-0.3,"u":1},
{"s":14,"x":760,"y":3.3e-5,"e":4.7e-6,"m":2.8e-5,"r":1.1,"u":1},
{"s":14,"x":763,"y":3.0e-5,"e":5e-6,"m":3.2e-5,"r":-0.4,"u":1},
{"s":14,"x":766,"y":4.2e-5,"e":5.3e-6,"m":3.7e-5,"r":0.9,"u":1},
{"s":14,"x":769,"y":5.0e-5,"e":5.6e-6,"m":4.2e-5,"r":1.5,"u":1},
{"s":14,"x":772,"y":4.35e-5,"e":6e-6,"m":4.7e-5,"r":-0.6,"u":1},
{"s":14,"x":775,"y":5.45e-5,"e":6.2e-6,"m":5.2e-5,"r":0.4,"u":1},
{"s":14,"x":778,"y":6.75e-5,"e":6.4e-6,"m":5.6e-5,"r":1.8,"u":1},
{"s":14,"x":781,"y":5.9e-5,"e":6.6e-6,"m":6.0e-5,"r":-0.2,"u":1},
{"s":14,"x":784,"y":7.1e-5,"e":7e-6,"m":6.6e-5,"r":0.7,"u":1},
{"s":14,"x":787,"y":8.7e-5,"e":7.4e-6,"m":7.5e-5,"r":1.6,"u":1},
{"s":14,"x":790,"y":9.2e-5,"e":8e-6,"m":9.0e-5,"r":0.3,"u":1},
{"s":14,"x":793,"y":1.43e-4,"e":9.5e-6,"m":1.25e-4,"r":1.9,"u":1},
{"s":14,"x":796,"y":2.1e-4,"e":1.3e-5,"m":2.3e-4,"r":-1.5,"u":1},
{"s":14,"x":799,"y":7.55e-4,"e":2.5e-5,"m":8.2e-4,"r":-2.6,"u":1},
{"s":14,"x":802,"y":3.03e-3,"e":5e-5,"m":3.1e-3,"r":-1.3,"u":1},
{"s":14,"x":805,"y":9.5e-3,"e":9e-5,"m":9.8e-3,"r":-3.0,"u":1},
{"s":14,"x":808,"y":2.45e-2,"e":1.4e-4,"m":2.48e-2,"r":-2.1,"u":1},
{"s":14,"x":811,"y":4.84e-2,"e":2e-4,"m":4.9e-2,"r":-2.8,"u":1},
{"s":14,"x":814,"y":7.48e-2,"e":2.4e-4,"m":7.5e-2,"r":-1.0,"u":1},
{"s":14,"x":817,"y":9.01e-2,"e":2.6e-4,"m":9.0e-2,"r":0.5,"u":1},
{"s":14,"x":820,"y":8.39e-2,"e":2.5e-4,"m":8.3e-2,"r":3.8,"u":1},
{"s":14,"x":823,"y":6.05e-2,"e":2.1e-4,"m":6.0e-2,"r":2.4,"u":1},
{"s":14,"x":826,"y":3.43e-2,"e":1.6e-4,"m":3.36e-2,"r":4.2,"u":1},
{"s":14,"x":829,"y":1.48e-2,"e":1.1e-4,"m":1.46e-2,"r":1.7,"u":1},
{"s":14,"x":832,"y":5.1e-3,"e":6e-5,"m":4.9e-3,"r":3.3,"u":1},
{"s":14,"x":835,"y":1.21e-3,"e":3.2e-5,"m":1.29e-3,"r":-2.4,"u":1},
{"s":14,"x":838,"y":2.1e-4,"e":1.5e-5,"m":2.6e-4,"r":-3.3,"u":1},
{"s":14,"x":841,"y":4.5e-5,"e":6e-6,"m":4.1e-5,"r":0.6,"u":1},
{"s":14,"x":844,"y":1.2e-5,"e":3e-6,"m":2.0e-5,"r":-2.7,"u":1},
{"s":6,"x":101.5,"r":3.6,"u":1},{"s":6,"x":104.5,"r":2.9,"u":1},{"s":6,"x":107.5,"r":3.4,"u":1},{"s":6,"x":110.5,"r":2.5,"u":1},{"s":6,"x":113.5,"r":3.0,"u":1},
{"s":6,"x":116.5,"r":1.9,"u":1},{"s":6,"x":119.5,"r":2.4,"u":1},{"s":6,"x":122.5,"r":1.4,"u":1},{"s":6,"x":125.5,"r":2.1,"u":1},{"s":6,"x":128.5,"r":0.9,"u":1},
{"s":6,"x":131.5,"r":1.7,"u":1},{"s":6,"x":134.5,"r":0.4,"u":1},{"s":6,"x":137.5,"r":1.2,"u":1},{"s":6,"x":140.5,"r":-0.9,"u":1},{"s":6,"x":143.5,"r":0.6,"u":1},
{"s":6,"x":146.5,"r":1.9,"u":1},{"s":6,"x":149.5,"r":-0.6,"u":1},{"s":6,"x":152.5,"r":1.0,"u":1},{"s":6,"x":155.5,"r":-1.8,"u":1},{"s":6,"x":158.5,"r":0.3,"u":1},
{"s":6,"x":161.5,"r":1.6,"u":1},{"s":6,"x":164.5,"r":-1.1,"u":1},{"s":6,"x":167.5,"r":0.8,"u":1},{"s":6,"x":170.5,"r":2.0,"u":1},{"s":6,"x":173.5,"r":-0.4,"u":1},
{"s":6,"x":176.5,"r":1.3,"u":1},{"s":6,"x":179.5,"r":-1.6,"u":1},{"s":6,"x":182.5,"r":0.5,"u":1},{"s":6,"x":185.5,"r":2.6,"u":1},{"s":6,"x":188.5,"r":-0.2,"u":1},
{"s":6,"x":191.5,"r":1.1,"u":1},{"s":6,"x":194.5,"r":-1.5,"u":1},{"s":6,"x":197.5,"r":0.4,"u":1},{"s":6,"x":200.5,"r":1.8,"u":1},{"s":6,"x":203.5,"r":-0.9,"u":1},
{"s":6,"x":206.5,"r":0.6,"u":1},{"s":6,"x":209.5,"r":-2.0,"u":1},{"s":6,"x":212.5,"r":1.2,"u":1},{"s":6,"x":215.5,"r":0.0,"u":1},{"s":6,"x":218.5,"r":2.2,"u":1},
{"s":6,"x":221.5,"r":-1.2,"u":1},{"s":6,"x":224.5,"r":0.7,"u":1},{"s":6,"x":227.5,"r":-0.6,"u":1},{"s":6,"x":230.5,"r":1.9,"u":1},{"s":6,"x":233.5,"r":-1.7,"u":1},
{"s":6,"x":236.5,"r":0.3,"u":1},{"s":6,"x":239.5,"r":1.4,"u":1},{"s":6,"x":242.5,"r":-0.8,"u":1},{"s":6,"x":245.5,"r":0.9,"u":1},{"s":6,"x":248.5,"r":-2.1,"u":1},
{"s":6,"x":251.5,"r":1.0,"u":1},{"s":6,"x":254.5,"r":-0.3,"u":1},{"s":6,"x":257.5,"r":1.7,"u":1},{"s":6,"x":260.5,"r":-1.4,"u":1},{"s":6,"x":263.5,"r":0.2,"u":1},
{"s":6,"x":266.5,"r":2.0,"u":1},{"s":6,"x":269.5,"r":-0.7,"u":1},{"s":6,"x":272.5,"r":0.8,"u":1},{"s":6,"x":275.5,"r":-1.9,"u":1},{"s":6,"x":278.5,"r":1.5,"u":1},
{"s":6,"x":281.5,"r":-0.4,"u":1},{"s":6,"x":284.5,"r":0.6,"u":1},{"s":6,"x":287.5,"r":-2.2,"u":1},{"s":6,"x":290.5,"r":1.1,"u":1},{"s":6,"x":293.5,"r":0.1,"u":1},
{"s":6,"x":296.5,"r":-1.0,"u":1},{"s":6,"x":299.5,"r":1.8,"u":1},{"s":6,"x":302.5,"r":-1.6,"u":1},{"s":6,"x":305.5,"r":0.4,"u":1},{"s":6,"x":308.5,"r":2.1,"u":1},
{"s":6,"x":311.5,"r":-0.8,"u":1},{"s":6,"x":314.5,"r":0.9,"u":1},{"s":6,"x":317.5,"r":-1.3,"u":1},{"s":6,"x":320.5,"r":1.4,"u":1},{"s":6,"x":323.5,"r":-0.5,"u":1},
{"s":6,"x":326.5,"r":0.7,"u":1},{"s":6,"x":329.5,"r":-1.9,"u":1},{"s":6,"x":332.5,"r":1.0,"u":1},{"s":6,"x":335.5,"r":-0.2,"u":1},{"s":6,"x":338.5,"r":0.6,"u":1},
{"s":6,"x":341.5,"r":2.4,"u":1},{"s":6,"x":344.5,"r":1.5,"u":1},{"s":6,"x":347.5,"r":-0.9,"u":1},{"s":6,"x":350.5,"r":0.3,"u":1},{"s":6,"x":353.5,"r":-1.8,"u":1},
{"s":10,"x":101.5,"r":0.8,"u":1},{"s":10,"x":104.5,"r":-1.3,"u":1},{"s":10,"x":107.5,"r":1.5,"u":1},{"s":10,"x":110.5,"r":0.2,"u":1},{"s":10,"x":113.5,"r":-0.7,"u":1},
{"s":10,"x":116.5,"r":2.1,"u":1},{"s":10,"x":119.5,"r":-1.6,"u":1},{"s":10,"x":122.5,"r":0.5,"u":1},{"s":10,"x":125.5,"r":1.2,"u":1},{"s":10,"x":128.5,"r":-0.4,"u":1},
{"s":10,"x":131.5,"r":1.8,"u":1},{"s":10,"x":134.5,"r":-1.1,"u":1},{"s":10,"x":137.5,"r":0.3,"u":1},{"s":10,"x":140.5,"r":-2.0,"u":1},{"s":10,"x":143.5,"r":0.9,"u":1},
{"s":10,"x":146.5,"r":1.4,"u":1},{"s":10,"x":149.5,"r":-0.8,"u":1},{"s":10,"x":152.5,"r":0.6,"u":1},{"s":10,"x":155.5,"r":-1.5,"u":1},{"s":10,"x":158.5,"r":2.3,"u":1},
{"s":10,"x":161.5,"r":-0.2,"u":1},{"s":10,"x":164.5,"r":1.0,"u":1},{"s":10,"x":167.5,"r":-1.9,"u":1},{"s":10,"x":170.5,"r":0.4,"u":1},{"s":10,"x":173.5,"r":1.7,"u":1},
{"s":10,"x":176.5,"r":-0.6,"u":1},{"s":10,"x":179.5,"r":0.8,"u":1},{"s":10,"x":182.5,"r":-1.4,"u":1},{"s":10,"x":185.5,"r":2.0,"u":1},{"s":10,"x":188.5,"r":0.1,"u":1},
{"s":10,"x":191.5,"r":-1.0,"u":1},{"s":10,"x":194.5,"r":1.3,"u":1},{"s":10,"x":197.5,"r":-2.3,"u":1},{"s":10,"x":200.5,"r":0.7,"u":1},{"s":10,"x":203.5,"r":1.6,"u":1},
{"s":10,"x":206.5,"r":-0.5,"u":1},{"s":10,"x":209.5,"r":0.2,"u":1},{"s":10,"x":212.5,"r":-1.7,"u":1},{"s":10,"x":215.5,"r":1.1,"u":1},{"s":10,"x":218.5,"r":-0.3,"u":1},
{"s":10,"x":221.5,"r":2.2,"u":1},{"s":10,"x":224.5,"r":-1.2,"u":1},{"s":10,"x":227.5,"r":0.5,"u":1},{"s":10,"x":230.5,"r":-0.9,"u":1},{"s":10,"x":233.5,"r":1.5,"u":1},
{"s":10,"x":236.5,"r":-2.1,"u":1},{"s":10,"x":239.5,"r":0.3,"u":1},{"s":10,"x":242.5,"r":1.9,"u":1},{"s":10,"x":245.5,"r":-0.7,"u":1},{"s":10,"x":248.5,"r":0.9,"u":1},
{"s":10,"x":251.5,"r":-1.5,"u":1},{"s":10,"x":254.5,"r":0.0,"u":1},{"s":10,"x":257.5,"r":1.2,"u":1},{"s":10,"x":260.5,"r":-1.8,"u":1},{"s":10,"x":263.5,"r":2.4,"u":1},
{"s":10,"x":266.5,"r":-0.4,"u":1},{"s":10,"x":269.5,"r":0.6,"u":1},{"s":10,"x":272.5,"r":-1.3,"u":1},{"s":10,"x":275.5,"r":1.7,"u":1},{"s":10,"x":278.5,"r":-0.1,"u":1},
{"s":10,"x":281.5,"r":-2.2,"u":1},{"s":10,"x":284.5,"r":1.0,"u":1},{"s":10,"x":287.5,"r":0.4,"u":1},{"s":10,"x":290.5,"r":-1.0,"u":1},{"s":10,"x":293.5,"r":1.4,"u":1},
{"s":10,"x":296.5,"r":-1.6,"u":1},{"s":10,"x":299.5,"r":2.0,"u":1},{"s":10,"x":302.5,"r":0.2,"u":1},{"s":10,"x":305.5,"r":-0.8,"u":1},{"s":10,"x":308.5,"r":1.3,"u":1},
{"s":10,"x":311.5,"r":-1.9,"u":1},{"s":10,"x":314.5,"r":0.7,"u":1},{"s":10,"x":317.5,"r":1.8,"u":1},{"s":10,"x":320.5,"r":-0.6,"u":1},{"s":10,"x":323.5,"r":0.3,"u":1},
{"s":10,"x":326.5,"r":-1.4,"u":1},{"s":10,"x":329.5,"r":2.1,"u":1},{"s":10,"x":332.5,"r":-0.2,"u":1},{"s":10,"x":335.5,"r":0.9,"u":1},{"s":10,"x":338.5,"r":-2.3,"u":1},
{"s":10,"x":341.5,"r":1.1,"u":1},{"s":10,"x":344.5,"r":-0.5,"u":1},{"s":10,"x":347.5,"r":1.6,"u":1},{"s":10,"x":350.5,"r":-1.1,"u":1},{"s":10,"x":353.5,"r":0.5,"u":1},
{"s":10,"x":356.5,"r":2.2,"u":1},{"s":10,"x":359.5,"r":0.8,"u":1},{"s":10,"x":362.5,"r":-1.7,"u":1},{"s":10,"x":365.5,"r":0.1,"u":1},{"s":10,"x":368.5,"r":1.4,"u":1},
{"s":10,"x":371.5,"r":-0.9,"u":1},{"s":10,"x":374.5,"r":-2.0,"u":1},{"s":10,"x":377.5,"r":1.0,"u":1},{"s":10,"x":380.5,"r":0.3,"u":1},{"s":10,"x":383.5,"r":-1.2,"u":1},
{"s":10,"x":386.5,"r":1.9,"u":1},{"s":10,"x":389.5,"r":-0.4,"u":1},{"s":10,"x":392.5,"r":0.7,"u":1},{"s":10,"x":395.5,"r":-1.6,"u":1},{"s":10,"x":398.5,"r":1.2,"u":1},
{"s":10,"x":401.5,"r":-0.1,"u":1},{"s":10,"x":404.5,"r":2.0,"u":1},{"s":10,"x":407.5,"r":-1.3,"u":1},{"s":10,"x":410.5,"r":0.5,"u":1},{"s":10,"x":413.5,"r":-0.7,"u":1},
{"s":10,"x":416.5,"r":1.5,"u":1},{"s":10,"x":419.5,"r":-2.1,"u":1},{"s":10,"x":422.5,"r":0.9,"u":1},{"s":10,"x":425.5,"r":-0.3,"u":1},{"s":10,"x":428.5,"r":1.7,"u":1},
{"s":10,"x":431.5,"r":-1.0,"u":1},{"s":10,"x":434.5,"r":0.2,"u":1},{"s":10,"x":437.5,"r":2.3,"u":1},{"s":10,"x":440.5,"r":-0.8,"u":1},{"s":10,"x":443.5,"r":0.6,"u":1},
{"s":10,"x":446.5,"r":-1.8,"u":1},{"s":10,"x":449.5,"r":1.1,"u":1},{"s":10,"x":452.5,"r":0.4,"u":1},{"s":10,"x":455.5,"r":1.6,"u":1},{"s":10,"x":458.5,"r":3.0,"u":1},
{"s":10,"x":461.5,"r":2.4,"u":1},{"s":10,"x":464.5,"r":0.9,"u":1},{"s":10,"x":467.5,"r":-0.4,"u":1},{"s":10,"x":470.5,"r":1.2,"u":1},{"s":10,"x":473.5,"r":-1.1,"u":1},
{"s":10,"x":476.5,"r":-2.6,"u":1},{"s":10,"x":479.5,"r":-3.1,"u":1},{"s":10,"x":482.5,"r":-1.9,"u":1},{"s":10,"x":485.5,"r":-0.6,"u":1},{"s":10,"x":488.5,"r":1.0,"u":1},
{"s":10,"x":491.5,"r":-1.3,"u":1},{"s":10,"x":494.5,"r":0.5,"u":1},{"s":10,"x":497.5,"r":1.8,"u":1},{"s":10,"x":500.5,"r":-2.0,"u":1},{"s":10,"x":503.5,"r":0.3,"u":1},
{"s":10,"x":506.5,"r":-0.9,"u":1},{"s":10,"x":509.5,"r":1.5,"u":1},{"s":10,"x":512.5,"r":-0.2,"u":1},{"s":10,"x":515.5,"r":0.8,"u":1},{"s":10,"x":518.5,"r":-1.6,"u":1},
{"s":10,"x":521.5,"r":2.1,"u":1},{"s":10,"x":524.5,"r":-0.5,"u":1},{"s":10,"x":527.5,"r":0.6,"u":1},{"s":10,"x":530.5,"r":-1.4,"u":1},{"s":10,"x":533.5,"r":1.3,"u":1},
{"s":10,"x":536.5,"r":-2.2,"u":1},{"s":10,"x":539.5,"r":0.4,"u":1},{"s":10,"x":542.5,"r":1.7,"u":1},{"s":10,"x":545.5,"r":-0.7,"u":1},{"s":10,"x":548.5,"r":0.9,"u":1},
{"s":10,"x":551.5,"r":-1.2,"u":1},{"s":10,"x":554.5,"r":0.2,"u":1},{"s":10,"x":557.5,"r":1.6,"u":1},{"s":10,"x":560.5,"r":-0.9,"u":1},{"s":10,"x":563.5,"r":0.5,"u":1},
{"s":10,"x":566.5,"r":-1.8,"u":1},{"s":10,"x":569.5,"r":1.2,"u":1},{"s":10,"x":572.5,"r":-0.3,"u":1},{"s":10,"x":575.5,"r":2.0,"u":1},{"s":10,"x":578.5,"r":-1.0,"u":1},
{"s":10,"x":581.5,"r":0.7,"u":1},{"s":10,"x":584.5,"r":-1.5,"u":1},{"s":10,"x":587.5,"r":1.1,"u":1},{"s":10,"x":590.5,"r":-0.4,"u":1},{"s":10,"x":593.5,"r":1.9,"u":1},
{"s":10,"x":596.5,"r":-2.1,"u":1},
{"s":14,"x":101.5,"r":-0.4,"u":1},{"s":14,"x":104.5,"r":1.1,"u":1},{"s":14,"x":107.5,"r":-1.2,"u":1},{"s":14,"x":110.5,"r":0.6,"u":1},{"s":14,"x":113.5,"r":-0.1,"u":1},
{"s":14,"x":116.5,"r":1.5,"u":1},{"s":14,"x":119.5,"r":-0.8,"u":1},{"s":14,"x":122.5,"r":0.2,"u":1},{"s":14,"x":125.5,"r":-1.7,"u":1},{"s":14,"x":128.5,"r":1.0,"u":1},
{"s":14,"x":131.5,"r":0.4,"u":1},{"s":14,"x":134.5,"r":-0.6,"u":1},{"s":14,"x":137.5,"r":1.3,"u":1},{"s":14,"x":140.5,"r":-1.1,"u":1},{"s":14,"x":143.5,"r":0.5,"u":1},
{"s":14,"x":146.5,"r":-0.3,"u":1},{"s":14,"x":149.5,"r":1.2,"u":1},{"s":14,"x":152.5,"r":-0.9,"u":1},{"s":14,"x":155.5,"r":0.8,"u":1},{"s":14,"x":158.5,"r":-1.4,"u":1},
{"s":14,"x":161.5,"r":0.1,"u":1},{"s":14,"x":164.5,"r":1.1,"u":1},{"s":14,"x":167.5,"r":-0.6,"u":1},{"s":14,"x":170.5,"r":0.7,"u":1},{"s":14,"x":173.5,"r":-1.2,"u":1},
{"s":14,"x":176.5,"r":1.5,"u":1},{"s":14,"x":179.5,"r":0.3,"u":1},{"s":14,"x":182.5,"r":1.2,"u":1},{"s":14,"x":185.5,"r":2.0,"u":1},{"s":14,"x":188.5,"r":3.0,"u":1},
{"s":14,"x":191.5,"r":4.1,"u":1},{"s":14,"x":194.5,"r":3.5,"u":1},{"s":14,"x":197.5,"r":2.7,"u":1},{"s":14,"x":200.5,"r":1.6,"u":1},{"s":14,"x":203.5,"r":0.4,"u":1},
{"s":14,"x":206.5,"r":-1.0,"u":1},{"s":14,"x":209.5,"r":1.3,"u":1},{"s":14,"x":212.5,"r":-0.5,"u":1},{"s":14,"x":215.5,"r":0.8,"u":1},{"s":14,"x":218.5,"r":-1.6,"u":1},
{"s":14,"x":221.5,"r":0.2,"u":1},{"s":14,"x":224.5,"r":1.4,"u":1},{"s":14,"x":227.5,"r":-0.9,"u":1},{"s":14,"x":230.5,"r":0.5,"u":1},{"s":14,"x":233.5,"r":-1.3,"u":1},
{"s":14,"x":236.5,"r":1.9,"u":1},{"s":14,"x":239.5,"r":-0.2,"u":1},{"s":14,"x":242.5,"r":0.6,"u":1},{"s":14,"x":245.5,"r":-2.0,"u":1},{"s":14,"x":248.5,"r":1.0,"u":1},
{"s":14,"x":251.5,"r":-0.7,"u":1},{"s":14,"x":254.5,"r":1.6,"u":1},{"s":14,"x":257.5,"r":0.1,"u":1},{"s":14,"x":260.5,"r":-1.5,"u":1},{"s":14,"x":263.5,"r":0.9,"u":1},
{"s":14,"x":266.5,"r":-0.4,"u":1},{"s":14,"x":269.5,"r":2.2,"u":1},{"s":14,"x":272.5,"r":-1.1,"u":1},{"s":14,"x":275.5,"r":0.3,"u":1},{"s":14,"x":278.5,"r":1.2,"u":1},
{"s":14,"x":281.5,"r":-1.8,"u":1},{"s":14,"x":284.5,"r":0.7,"u":1},{"s":14,"x":287.5,"r":-0.3,"u":1},{"s":14,"x":290.5,"r":1.5,"u":1},{"s":14,"x":293.5,"r":-1.0,"u":1},
{"s":14,"x":296.5,"r":0.4,"u":1},{"s":14,"x":299.5,"r":-2.2,"u":1},{"s":14,"x":302.5,"r":1.1,"u":1},{"s":14,"x":305.5,"r":0.0,"u":1},{"s":14,"x":308.5,"r":1.7,"u":1},
{"s":14,"x":311.5,"r":-0.8,"u":1},{"s":14,"x":314.5,"r":0.5,"u":1},{"s":14,"x":317.5,"r":-1.4,"u":1},{"s":14,"x":320.5,"r":2.0,"u":1},{"s":14,"x":323.5,"r":-0.5,"u":1},
{"s":14,"x":326.5,"r":0.9,"u":1},{"s":14,"x":329.5,"r":-1.7,"u":1},{"s":14,"x":332.5,"r":0.3,"u":1},{"s":14,"x":335.5,"r":1.3,"u":1},{"s":14,"x":338.5,"r":-0.9,"u":1},
{"s":14,"x":341.5,"r":0.6,"u":1},{"s":14,"x":344.5,"r":-2.1,"u":1},{"s":14,"x":347.5,"r":1.0,"u":1},{"s":14,"x":350.5,"r":-0.2,"u":1},{"s":14,"x":353.5,"r":1.8,"u":1},
{"s":14,"x":356.5,"r":-1.2,"u":1},{"s":14,"x":359.5,"r":0.4,"u":1},{"s":14,"x":362.5,"r":-0.6,"u":1},{"s":14,"x":365.5,"r":1.4,"u":1},{"s":14,"x":368.5,"r":-1.5,"u":1},
{"s":14,"x":371.5,"r":0.8,"u":1},{"s":14,"x":374.5,"r":2.1,"u":1},{"s":14,"x":377.5,"r":-0.4,"u":1},{"s":14,"x":380.5,"r":0.2,"u":1},{"s":14,"x":383.5,"r":-1.9,"u":1},
{"s":14,"x":386.5,"r":1.1,"u":1},{"s":14,"x":389.5,"r":-0.7,"u":1},{"s":14,"x":392.5,"r":0.5,"u":1},{"s":14,"x":395.5,"r":1.6,"u":1},{"s":14,"x":398.5,"r":-1.3,"u":1},
{"s":14,"x":401.5,"r":0.3,"u":1},{"s":14,"x":404.5,"r":-0.8,"u":1},{"s":14,"x":407.5,"r":1.9,"u":1},{"s":14,"x":410.5,"r":-1.6,"u":1},{"s":14,"x":413.5,"r":0.7,"u":1},
{"s":14,"x":416.5,"r":-0.1,"u":1},{"s":14,"x":419.5,"r":1.2,"u":1},{"s":14,"x":422.5,"r":-2.3,"u":1},{"s":14,"x":425.5,"r":0.4,"u":1},{"s":14,"x":428.5,"r":1.0,"u":1},
{"s":14,"x":431.5,"r":-0.9,"u":1},{"s":14,"x":434.5,"r":1.7,"u":1},{"s":14,"x":437.5,"r":-0.3,"u":1},{"s":14,"x":440.5,"r":0.6,"u":1},{"s":14,"x":443.5,"r":-1.4,"u":1},
{"s":14,"x":446.5,"r":2.0,"u":1},{"s":14,"x":449.5,"r":-0.6,"u":1},{"s":14,"x":452.5,"r":0.9,"u":1},{"s":14,"x":455.5,"r":-1.8,"u":1},{"s":14,"x":458.5,"r":0.1,"u":1},
{"s":14,"x":461.5,"r":1.5,"u":1},{"s":14,"x":464.5,"r":-1.0,"u":1},{"s":14,"x":467.5,"r":0.7,"u":1},{"s":14,"x":470.5,"r":-0.4,"u":1},{"s":14,"x":473.5,"r":2.2,"u":1},
{"s":14,"x":476.5,"r":-1.7,"u":1},{"s":14,"x":479.5,"r":-2.4,"u":1},{"s":14,"x":482.5,"r":0.3,"u":1},{"s":14,"x":485.5,"r":1.1,"u":1},{"s":14,"x":488.5,"r":-0.8,"u":1},
{"s":14,"x":491.5,"r":0.6,"u":1},{"s":14,"x":494.5,"r":-1.5,"u":1},{"s":14,"x":497.5,"r":1.4,"u":1},{"s":14,"x":500.5,"r":-0.2,"u":1},{"s":14,"x":503.5,"r":0.9,"u":1},
{"s":14,"x":506.5,"r":-2.0,"u":1},{"s":14,"x":509.5,"r":0.5,"u":1},{"s":14,"x":512.5,"r":1.8,"u":1},{"s":14,"x":515.5,"r":-1.1,"u":1},{"s":14,"x":518.5,"r":-2.8,"u":1},
{"s":14,"x":521.5,"r":0.4,"u":1},{"s":14,"x":524.5,"r":1.2,"u":1},{"s":14,"x":527.5,"r":-0.7,"u":1},{"s":14,"x":530.5,"r":0.8,"u":1},{"s":14,"x":533.5,"r":-1.6,"u":1},
{"s":14,"x":536.5,"r":1.5,"u":1},{"s":14,"x":539.5,"r":-0.3,"u":1},{"s":14,"x":542.5,"r":0.2,"u":1},{"s":14,"x":545.5,"r":2.0,"u":1},{"s":14,"x":548.5,"r":-1.2,"u":1},
{"s":14,"x":551.5,"r":0.6,"u":1},{"s":14,"x":554.5,"r":-0.9,"u":1},{"s":14,"x":557.5,"r":1.3,"u":1},{"s":14,"x":560.5,"r":-1.9,"u":1},{"s":14,"x":563.5,"r":0.1,"u":1},
{"s":14,"x":566.5,"r":1.0,"u":1},{"s":14,"x":569.5,"r":-0.5,"u":1},{"s":14,"x":572.5,"r":1.7,"u":1},{"s":14,"x":575.5,"r":-1.3,"u":1},{"s":14,"x":578.5,"r":0.4,"u":1},
{"s":14,"x":581.5,"r":-2.1,"u":1},{"s":14,"x":584.5,"r":0.8,"u":1},{"s":14,"x":587.5,"r":1.4,"u":1},{"s":14,"x":590.5,"r":-0.6,"u":1},{"s":14,"x":593.5,"r":0.3,"u":1},
{"s":14,"x":596.5,"r":-1.0,"u":1},{"s":14,"x":599.5,"r":1.2,"u":1},{"s":14,"x":602.5,"r":0.5,"u":1},{"s":14,"x":605.5,"r":2.1,"u":1},{"s":14,"x":608.5,"r":0.0,"u":1},
{"s":14,"x":611.5,"r":1.4,"u":1},{"s":14,"x":614.5,"r":-0.8,"u":1},{"s":14,"x":617.5,"r":1.9,"u":1},{"s":14,"x":620.5,"r":0.6,"u":1},{"s":14,"x":623.5,"r":1.0,"u":1},
{"s":14,"x":626.5,"r":-0.5,"u":1},{"s":14,"x":629.5,"r":2.4,"u":1},{"s":14,"x":632.5,"r":0.9,"u":1},{"s":14,"x":635.5,"r":0.2,"u":1},{"s":14,"x":638.5,"r":1.6,"u":1},
{"s":14,"x":641.5,"r":-0.7,"u":1},{"s":14,"x":644.5,"r":1.2,"u":1},{"s":14,"x":647.5,"r":0.4,"u":1},{"s":14,"x":650.5,"r":2.0,"u":1},{"s":14,"x":653.5,"r":0.7,"u":1},
{"s":14,"x":656.5,"r":-0.3,"u":1},{"s":14,"x":659.5,"r":1.5,"u":1},{"s":14,"x":662.5,"r":0.8,"u":1},{"s":14,"x":665.5,"r":2.2,"u":1},{"s":14,"x":668.5,"r":0.1,"u":1},
{"s":14,"x":671.5,"r":1.3,"u":1},{"s":14,"x":674.5,"r":-0.6,"u":1},{"s":14,"x":677.5,"r":1.7,"u":1},{"s":14,"x":680.5,"r":0.5,"u":1},{"s":14,"x":683.5,"r":1.9,"u":1},
{"s":14,"x":686.5,"r":0.2,"u":1},{"s":14,"x":689.5,"r":1.1,"u":1},{"s":14,"x":692.5,"r":-0.4,"u":1},{"s":14,"x":695.5,"r":0.6,"u":1},{"s":14,"x":698.5,"r":-0.9,"u":1},
{"s":14,"x":701.5,"r":0.2,"u":1},{"s":14,"x":704.5,"r":-1.5,"u":1},{"s":14,"x":707.5,"r":-0.3,"u":1},{"s":14,"x":710.5,"r":-1.9,"u":1},{"s":14,"x":713.5,"r":-0.8,"u":1},
{"s":14,"x":716.5,"r":-2.3,"u":1},{"s":14,"x":719.5,"r":-1.2,"u":1},{"s":14,"x":722.5,"r":-1.7,"u":1},{"s":14,"x":725.5,"r":-2.6,"u":1},{"s":14,"x":728.5,"r":-1.0,"u":1},
{"s":14,"x":731.5,"r":-1.9,"u":1},{"s":14,"x":734.5,"r":-0.7,"u":1},{"s":14,"x":737.5,"r":-2.4,"u":1},{"s":14,"x":740.5,"r":-1.4,"u":1},{"s":14,"x":743.5,"r":-0.5,"u":1},
{"s":14,"x":746.5,"r":-1.6,"u":1},{"s":14,"x":749.5,"r":0.4,"u":1},{"s":14,"x":752.5,"r":-0.8,"u":1},{"s":14,"x":755.5,"r":1.0,"u":1},{"s":14,"x":758.5,"r":0.3,"u":1},
{"s":14,"x":761.5,"r":-0.6,"u":1},{"s":14,"x":764.5,"r":1.4,"u":1},{"s":14,"x":767.5,"r":0.2,"u":1},{"s":14,"x":770.5,"r":1.1,"u":1},{"s":14,"x":773.5,"r":-0.9,"u":1},
{"s":14,"x":776.5,"r":0.8,"u":1},{"s":14,"x":779.5,"r":1.3,"u":1},{"s":14,"x":782.5,"r":-0.4,"u":1},{"s":14,"x":785.5,"r":1.9,"u":1},{"s":14,"x":788.5,"r":0.6,"u":1},
{"s":14,"x":791.5,"r":-0.2,"u":1},{"s":14,"x":794.5,"r":1.2,"u":1},{"s":14,"x":797.5,"r":-2.0,"u":1},{"s":14,"x":800.5,"r":-3.2,"u":1},{"s":14,"x":803.5,"r":-2.2,"u":1},
{"s":14,"x":806.5,"r":-2.7,"u":1},{"s":14,"x":809.5,"r":-1.6,"u":1},{"s":14,"x":812.5,"r":-2.4,"u":1},{"s":14,"x":815.5,"r":-0.3,"u":1},{"s":14,"x":818.5,"r":2.9,"u":1},
{"s":14,"x":821.5,"r":4.1,"u":1},{"s":14,"x":824.5,"r":3.0,"u":1},{"s":14,"x":827.5,"r":2.2,"u":1},{"s":14,"x":830.5,"r":3.6,"u":1},{"s":14,"x":833.5,"r":0.8,"u":1},
{"s":14,"x":836.5,"r":-3.0,"u":1},{"s":14,"x":839.5,"r":-1.8,"u":1},{"s":14,"x":842.5,"r":-3.6,"u":1}
]},
"vconcat":[
{
"width":1276,"height":630,
"data":{"name":"d"},
"layer":[
{"transform":[{"filter":"isValid(datum.y)"}],
 "mark":{"type":"errorbar","ticks":true,"size":8,"thickness":1.8,"clip":true},
 "encoding":{
  "x":{"field":"x","type":"quantitative","scale":{"domain":[100,849],"nice":false,"zero":false},
   "axis":{"orient":"bottom","values":[150,200,250,300,350,400,450,500,550,600,650,700,750,800],"labels":false,"title":null,"tickSize":{"condition":{"test":"datum.value % 200 === 0","value":-13},"value":-6}}},
  "y":{"field":"y","type":"quantitative","scale":{"type":"log","domain":[0.000001,10],"nice":false},
   "axis":{"orient":"left","values":[0.000001,0.00001,0.0001,0.001,0.01,0.1,1,10],"tickSize":-24,"labelPadding":40,"labelFlush":true,
    "labelExpr":"datum.value > 5 ? '1.E+01' : datum.value > 0.5 ? '1.E+00' : datum.value > 0.05 ? '1.E−01' : datum.value > 0.005 ? '1.E−02' : datum.value > 0.0005 ? '1.E−03' : datum.value > 0.00005 ? '1.E−04' : datum.value > 0.000005 ? '1.E−05' : '1.E−06'",
    "title":"Normalized\u2002Counts","titlePadding":30}},
  "yError":{"field":"e"},
  "color":{"field":"s","type":"nominal","scale":{"domain":[6,10,14],"range":["#ff2200","#22e622","#1464ff"]},"legend":null}
 }},
{"transform":[{"filter":"isValid(datum.m)"}],
 "mark":{"type":"line","strokeWidth":1.5,"clip":true},
 "encoding":{
  "x":{"field":"x","type":"quantitative","scale":{"domain":[100,849],"nice":false,"zero":false},
   "axis":{"orient":"top","values":[150,200,250,300,350,400,450,500,550,600,650,700,750,800],"labels":false,"title":null,"tickSize":{"condition":{"test":"datum.value % 200 === 0","value":-13},"value":-6}}},
  "y":{"field":"m","type":"quantitative","scale":{"type":"log","domain":[0.000001,10],"nice":false},
   "axis":{"orient":"right","values":[0.000001,0.00001,0.0001,0.001,0.01,0.1,1,10],"tickSize":-24,"labels":false,"title":null}},
  "color":{"field":"s","type":"nominal","scale":{"domain":[6,10,14],"range":["#ff2200","#22e622","#1464ff"]},"legend":null}
 }},
{"data":{"values":[{}]},
 "mark":{"type":"text","text":"RRCAT beamline data","font":"Liberation Serif","fontSize":42,"align":"left","baseline":"alphabetic","color":"black"},
 "encoding":{"x":{"datum":126.5,"type":"quantitative","axis":null},"y":{"datum":2.1,"type":"quantitative","axis":null}}},
{"data":{"values":[{}]},
 "mark":{"type":"text","text":"6\u2002keV","font":"DejaVu Sans","fontSize":32,"align":"right","baseline":"alphabetic","color":"#ff2200"},
 "encoding":{"x":{"datum":827.5,"type":"quantitative","axis":null},"y":{"datum":2.27,"type":"quantitative","axis":null}}},
{"data":{"values":[{}]},
 "mark":{"type":"text","text":"10\u2002keV","font":"DejaVu Sans","fontSize":32,"align":"right","baseline":"alphabetic","color":"#22e622"},
 "encoding":{"x":{"datum":827.5,"type":"quantitative","axis":null},"y":{"datum":0.755,"type":"quantitative","axis":null}}},
{"data":{"values":[{}]},
 "mark":{"type":"text","text":"14\u2002keV","font":"DejaVu Sans","fontSize":32,"align":"right","baseline":"alphabetic","color":"#1464ff"},
 "encoding":{"x":{"datum":827.5,"type":"quantitative","axis":null},"y":{"datum":0.233,"type":"quantitative","axis":null}}}
],
"resolve":{"axis":{"x":"independent","y":"independent"}}
},
{
"width":1276,"height":320,
"data":{"name":"d"},
"layer":[
{"transform":[{"filter":"datum.s === 14"}],
 "mark":{"type":"errorbar","ticks":true,"size":8,"thickness":2,"clip":true},
 "encoding":{
  "x":{"field":"x","type":"quantitative","scale":{"domain":[100,849],"nice":false,"zero":false},
   "axis":{"orient":"bottom","values":[150,200,250,300,350,400,450,500,550,600,650,700,750,800],"labelExpr":"datum.value % 200 === 0 ? datum.label : ''","labelPadding":39,"title":"PHA Channel","titlePadding":5,"tickSize":{"condition":{"test":"datum.value % 200 === 0","value":-13},"value":-6}}},
  "y":{"field":"r","type":"quantitative","scale":{"domain":[-5,5],"nice":false,"zero":false},
   "axis":{"orient":"left","values":[-4.5,-4,-3.5,-3,-2.5,-2,-1.5,-1,-0.5,0,0.5,1,1.5,2,2.5,3,3.5,4,4.5],"labelExpr":"datum.value % 2 === 0 ? format(datum.value, 'd') : ''","labelPadding":39,"title":"Residual\u2002(Δχ)","titlePadding":27,"tickSize":{"condition":{"test":"datum.value % 2 === 0","value":-23},"value":-11}}},
  "yError":{"field":"u"},
  "color":{"value":"#1464ff"}
 }},
{"transform":[{"filter":"datum.s === 10"}],
 "mark":{"type":"errorbar","ticks":true,"size":8,"thickness":2,"clip":true},
 "encoding":{
  "x":{"field":"x","type":"quantitative","scale":{"domain":[100,849],"nice":false,"zero":false},
   "axis":{"orient":"top","values":[150,200,250,300,350,400,450,500,550,600,650,700,750,800],"labels":false,"title":null,"tickSize":{"condition":{"test":"datum.value % 200 === 0","value":-13},"value":-6}}},
  "y":{"field":"r","type":"quantitative","scale":{"domain":[-5,5],"nice":false,"zero":false},
   "axis":{"orient":"right","values":[-4.5,-4,-3.5,-3,-2.5,-2,-1.5,-1,-0.5,0,0.5,1,1.5,2,2.5,3,3.5,4,4.5],"labels":false,"title":null,"tickSize":{"condition":{"test":"datum.value % 2 === 0","value":-23},"value":-11}}},
  "yError":{"field":"u"},
  "color":{"value":"#22e622"}
 }},
{"transform":[{"filter":"datum.s === 6"}],
 "mark":{"type":"errorbar","ticks":true,"size":8,"thickness":2,"clip":true},
 "encoding":{
  "x":{"field":"x","type":"quantitative","axis":null},
  "y":{"field":"r","type":"quantitative","axis":null},
  "yError":{"field":"u"},
  "color":{"value":"#ff2200"}
 }},
{"data":{"values":[{}]},
 "mark":{"type":"rule","color":"black","strokeWidth":1.5},
 "encoding":{"y":{"datum":0,"type":"quantitative","axis":null}}}
],
"resolve":{"axis":{"x":"independent","y":"independent"}}
}
],
"config":{
 "view":{"stroke":"black","strokeWidth":3},
 "axis":{"domain":false,"grid":false,"ticks":true,"tickColor":"black","tickWidth":3,"labelFont":"DejaVu Sans","labelFontSize":37,"labelColor":"black","titleFont":"DejaVu Sans","titleFontSize":38,"titleFontWeight":"normal","titleColor":"black","zindex":1,"labelOverlap":false}
}
}
